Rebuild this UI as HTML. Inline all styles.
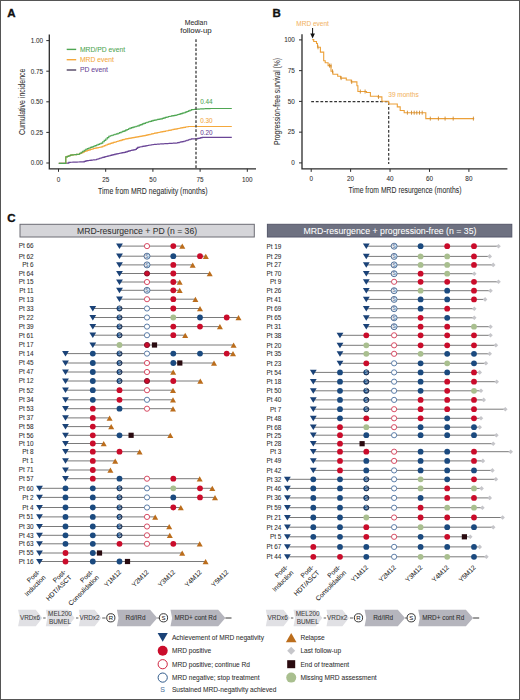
<!DOCTYPE html>
<html><head><meta charset="utf-8"><title>Figure</title>
<style>
html,body{margin:0;padding:0;background:#fff;}
body{width:520px;height:700px;overflow:hidden;}
svg{display:block;font-family:"Liberation Sans", sans-serif;}
text{stroke-width:0.06px;}
</style></head><body>
<svg width="520" height="700" viewBox="0 0 520 700">
<rect x="0" y="0" width="520" height="700" fill="#fff"/>
<text x="7.20" y="17.20" font-size="11.5" text-anchor="start" fill="#111" stroke="#111" font-weight="bold" style="stroke-width:0.35px">A</text>
<text x="272.50" y="17.20" font-size="11.5" text-anchor="start" fill="#111" stroke="#111" font-weight="bold" style="stroke-width:0.35px">B</text>
<text x="7.20" y="221.60" font-size="11.5" text-anchor="start" fill="#111" stroke="#111" font-weight="bold" style="stroke-width:0.35px">C</text>
<path d="M49.3 34.4 V168.8 H256" fill="none" stroke="#2b2b2b" stroke-width="1.3"/>
<line x1="46.3" y1="163.00" x2="49.3" y2="163.00" stroke="#2b2b2b" stroke-width="1"/>
<text x="43.20" y="165.30" font-size="6.4" text-anchor="end" fill="#2e2e2e" stroke="#2e2e2e" >0.00</text>
<line x1="46.3" y1="132.40" x2="49.3" y2="132.40" stroke="#2b2b2b" stroke-width="1"/>
<text x="43.20" y="134.70" font-size="6.4" text-anchor="end" fill="#2e2e2e" stroke="#2e2e2e" >0.25</text>
<line x1="46.3" y1="101.80" x2="49.3" y2="101.80" stroke="#2b2b2b" stroke-width="1"/>
<text x="43.20" y="104.10" font-size="6.4" text-anchor="end" fill="#2e2e2e" stroke="#2e2e2e" >0.50</text>
<line x1="46.3" y1="71.20" x2="49.3" y2="71.20" stroke="#2b2b2b" stroke-width="1"/>
<text x="43.20" y="73.50" font-size="6.4" text-anchor="end" fill="#2e2e2e" stroke="#2e2e2e" >0.75</text>
<line x1="46.3" y1="40.60" x2="49.3" y2="40.60" stroke="#2b2b2b" stroke-width="1"/>
<text x="43.20" y="42.90" font-size="6.4" text-anchor="end" fill="#2e2e2e" stroke="#2e2e2e" >1.00</text>
<line x1="58.50" y1="168.8" x2="58.50" y2="171.8" stroke="#2b2b2b" stroke-width="1"/>
<text x="58.50" y="181.50" font-size="6.4" text-anchor="middle" fill="#2e2e2e" stroke="#2e2e2e" >0</text>
<line x1="105.70" y1="168.8" x2="105.70" y2="171.8" stroke="#2b2b2b" stroke-width="1"/>
<text x="105.70" y="181.50" font-size="6.4" text-anchor="middle" fill="#2e2e2e" stroke="#2e2e2e" >25</text>
<line x1="152.90" y1="168.8" x2="152.90" y2="171.8" stroke="#2b2b2b" stroke-width="1"/>
<text x="152.90" y="181.50" font-size="6.4" text-anchor="middle" fill="#2e2e2e" stroke="#2e2e2e" >50</text>
<line x1="200.10" y1="168.8" x2="200.10" y2="171.8" stroke="#2b2b2b" stroke-width="1"/>
<text x="200.10" y="181.50" font-size="6.4" text-anchor="middle" fill="#2e2e2e" stroke="#2e2e2e" >75</text>
<line x1="247.30" y1="168.8" x2="247.30" y2="171.8" stroke="#2b2b2b" stroke-width="1"/>
<text x="247.30" y="181.50" font-size="6.4" text-anchor="middle" fill="#2e2e2e" stroke="#2e2e2e" >100</text>
<text x="152.80" y="194.20" font-size="8.3" text-anchor="middle" fill="#2e2e2e" stroke="#2e2e2e" textLength="109.5" lengthAdjust="spacingAndGlyphs">Time from MRD negativity (months)</text>
<text x="0" y="0" font-size="8.4" text-anchor="middle" fill="#2e2e2e" stroke="#2e2e2e" textLength="66.4" lengthAdjust="spacingAndGlyphs" transform="translate(25.3,101.8) rotate(-90)">Cumulative incidence</text>
<path d="M58.80 163.40 H60.13 V163.36 H61.46 V163.31 H62.79 V163.27 H64.11 V163.23 H65.44 V163.19 H66.77 V163.14 H68.10 V163.10 H68.80 V162.30 H70.19 V162.25 H71.58 V162.20 H72.97 V162.15 H74.36 V162.10 H75.75 V162.05 H77.14 V162.00 H78.53 V161.95 H79.92 V161.90 H81.31 V161.85 H82.70 V161.80 H84.25 V161.30 H85.80 V160.80 H87.11 V160.64 H88.43 V160.49 H89.74 V160.33 H91.06 V160.17 H92.37 V160.01 H93.69 V159.86 H95.00 V159.70 H96.55 V159.20 H98.10 V158.70 H99.65 V158.20 H101.20 V157.70 H102.72 V157.30 H104.24 V156.90 H105.76 V156.50 H107.28 V156.10 H108.80 V155.70 H110.34 V155.32 H111.88 V154.94 H113.42 V154.56 H114.96 V154.18 H116.50 V153.80 H118.04 V153.50 H119.58 V153.20 H121.12 V152.90 H122.66 V152.60 H124.20 V152.30 H125.73 V151.80 H127.27 V151.30 H128.80 V150.80 H130.35 V150.48 H131.90 V150.15 H133.45 V149.82 H135.00 V149.50 H136.35 V148.40 H137.70 V147.30 H139.24 V147.00 H140.78 V146.70 H142.32 V146.40 H143.86 V146.10 H145.40 V145.80 H146.94 V145.54 H148.48 V145.28 H150.02 V145.02 H151.56 V144.76 H153.10 V144.50 H154.64 V144.38 H156.18 V144.26 H157.72 V144.14 H159.26 V144.02 H160.80 V143.90 H162.20 V143.82 H163.60 V143.74 H165.00 V143.65 H166.40 V143.57 H167.80 V143.49 H169.20 V143.41 H170.60 V143.33 H172.00 V143.25 H173.40 V143.16 H174.80 V143.08 H176.20 V143.00 H177.72 V142.64 H179.24 V142.28 H180.76 V141.92 H182.28 V141.56 H183.80 V141.20 H185.34 V140.72 H186.88 V140.24 H188.42 V139.76 H189.96 V139.28 H191.50 V138.80 H193.07 V138.80 H194.63 V138.80 H196.20 V138.80 H197.72 V138.43 H199.25 V138.05 H200.78 V137.68 H202.30 V137.30 H203.64 V137.30 H204.98 V137.30 H206.32 V137.30 H207.66 V137.30 H209.00 V137.30 H210.35 V137.30 H211.69 V137.30 H213.03 V137.30 H214.37 V137.30 H215.71 V137.30 H217.05 V137.30 H218.39 V137.30 H219.73 V137.30 H221.07 V137.30 H222.41 V137.30 H223.75 V137.30 H225.10 V137.30 H226.44 V137.30 H227.78 V137.30 H229.12 V137.30 H230.46 V137.30 H231.80 V137.30" fill="none" stroke="#6a4596" stroke-width="1.15"/>
<path d="M58.80 163.40 H60.37 V163.40 H61.93 V163.40 H63.50 V163.40 H65.80 V156.90 H67.33 V156.30 H68.87 V155.70 H70.40 V155.10 H71.94 V154.92 H73.48 V154.74 H75.02 V154.56 H76.56 V154.38 H78.10 V154.20 H79.64 V153.52 H81.18 V152.84 H82.72 V152.16 H84.26 V151.48 H85.80 V150.80 H87.34 V150.34 H88.88 V149.88 H90.42 V149.42 H91.96 V148.96 H93.50 V148.50 H95.04 V148.18 H96.58 V147.86 H98.12 V147.54 H99.66 V147.22 H101.20 V146.90 H102.72 V146.28 H104.24 V145.66 H105.76 V145.04 H107.28 V144.42 H108.80 V143.80 H110.34 V143.34 H111.88 V142.88 H113.42 V142.42 H114.96 V141.96 H116.50 V141.50 H118.04 V141.04 H119.58 V140.58 H121.12 V140.12 H122.66 V139.66 H124.20 V139.20 H125.65 V138.92 H127.10 V138.65 H128.55 V138.38 H130.00 V138.10 H131.40 V137.85 H132.80 V137.59 H134.20 V137.34 H135.60 V137.08 H137.00 V136.83 H138.40 V136.57 H139.80 V136.32 H141.20 V136.06 H142.60 V135.81 H144.00 V135.55 H145.40 V135.30 H146.94 V134.94 H148.48 V134.58 H150.02 V134.22 H151.56 V133.86 H153.10 V133.50 H154.64 V133.18 H156.18 V132.86 H157.72 V132.54 H159.26 V132.22 H160.80 V131.90 H162.34 V131.60 H163.88 V131.30 H165.42 V131.00 H166.96 V130.70 H168.50 V130.40 H170.04 V130.08 H171.58 V129.76 H173.12 V129.44 H174.66 V129.12 H176.20 V128.80 H177.72 V128.50 H179.24 V128.20 H180.76 V127.90 H182.28 V127.60 H183.80 V127.30 H185.37 V127.03 H186.93 V126.77 H188.50 V126.50 H189.81 V126.50 H191.12 V126.50 H192.44 V126.50 H193.75 V126.50 H195.06 V126.50 H196.37 V126.50 H197.68 V126.50 H199.00 V126.50 H200.31 V126.50 H201.62 V126.50 H202.93 V126.50 H204.25 V126.50 H205.56 V126.50 H206.87 V126.50 H208.18 V126.50 H209.49 V126.50 H210.81 V126.50 H212.12 V126.50 H213.43 V126.50 H214.74 V126.50 H216.05 V126.50 H217.37 V126.50 H218.68 V126.50 H219.99 V126.50 H221.30 V126.50 H222.62 V126.50 H223.93 V126.50 H225.24 V126.50 H226.55 V126.50 H227.86 V126.50 H229.18 V126.50 H230.49 V126.50 H231.80 V126.50" fill="none" stroke="#f4a83c" stroke-width="1.15"/>
<path d="M58.80 163.40 H60.37 V163.40 H61.93 V163.40 H63.50 V163.40 H65.80 V156.90 H67.33 V156.30 H68.87 V155.70 H70.40 V155.10 H71.94 V154.92 H73.48 V154.74 H75.02 V154.56 H76.56 V154.38 H78.10 V154.20 H79.64 V153.20 H81.18 V152.20 H82.72 V151.20 H84.26 V150.20 H85.80 V149.20 H87.34 V148.60 H88.88 V148.00 H90.42 V147.40 H91.96 V146.80 H93.50 V146.20 H95.04 V145.58 H96.58 V144.96 H98.12 V144.34 H99.66 V143.72 H101.20 V143.10 H102.72 V141.72 H104.24 V140.34 H105.76 V138.96 H107.28 V137.58 H108.80 V136.20 H110.34 V135.72 H111.88 V135.24 H113.42 V134.76 H114.96 V134.28 H116.50 V133.80 H118.04 V133.20 H119.58 V132.60 H121.12 V132.00 H122.66 V131.40 H124.20 V130.80 H125.65 V130.12 H127.10 V129.45 H128.55 V128.78 H130.00 V128.10 H131.54 V127.64 H133.08 V127.18 H134.62 V126.72 H136.16 V126.26 H137.70 V125.80 H139.24 V125.18 H140.78 V124.56 H142.32 V123.94 H143.86 V123.32 H145.40 V122.70 H146.94 V122.24 H148.48 V121.78 H150.02 V121.32 H151.56 V120.86 H153.10 V120.40 H154.64 V120.08 H156.18 V119.76 H157.72 V119.44 H159.26 V119.12 H160.80 V118.80 H162.34 V118.34 H163.88 V117.88 H165.42 V117.42 H166.96 V116.96 H168.50 V116.50 H170.04 V116.20 H171.58 V115.90 H173.12 V115.60 H174.66 V115.30 H176.20 V115.00 H177.72 V114.54 H179.24 V114.08 H180.76 V113.62 H182.28 V113.16 H183.80 V112.70 H185.34 V112.08 H186.88 V111.46 H188.42 V110.84 H189.96 V110.22 H191.50 V109.60 H193.07 V109.47 H194.63 V109.33 H196.20 V109.20 H197.72 V109.10 H199.25 V109.00 H200.78 V108.90 H202.30 V108.80 H203.84 V108.74 H205.38 V108.68 H206.92 V108.62 H208.46 V108.56 H210.00 V108.50 H211.36 V108.50 H212.72 V108.50 H214.09 V108.50 H215.45 V108.50 H216.81 V108.50 H218.18 V108.50 H219.54 V108.50 H220.90 V108.50 H222.26 V108.50 H223.62 V108.50 H224.99 V108.50 H226.35 V108.50 H227.71 V108.50 H229.08 V108.50 H230.44 V108.50 H231.80 V108.50" fill="none" stroke="#4fa653" stroke-width="1.15"/>
<line x1="196.0" y1="39.2" x2="196.0" y2="168.8" stroke="#333" stroke-width="1.25" stroke-dasharray="2.8,1.7"/>
<text x="196.00" y="25.30" font-size="6.9" text-anchor="middle" fill="#2e2e2e" stroke="#2e2e2e" >Median</text>
<text x="196.00" y="33.00" font-size="7.2" text-anchor="middle" fill="#2e2e2e" stroke="#2e2e2e" textLength="31.5" lengthAdjust="spacingAndGlyphs">follow-up</text>
<text x="200.20" y="104.30" font-size="6.4" text-anchor="start" fill="#4fa653" stroke="#4fa653" >0.44</text>
<text x="200.20" y="122.80" font-size="6.4" text-anchor="start" fill="#f4a83c" stroke="#f4a83c" >0.30</text>
<text x="200.20" y="134.50" font-size="6.4" text-anchor="start" fill="#6a4596" stroke="#6a4596" >0.20</text>
<line x1="66.7" y1="49.40" x2="76.2" y2="49.40" stroke="#4fa653" stroke-width="1.4"/>
<text x="80.00" y="51.70" font-size="6.75" text-anchor="start" fill="#4fa653" stroke="#4fa653" >MRD/PD event</text>
<line x1="66.7" y1="59.70" x2="76.2" y2="59.70" stroke="#f4a83c" stroke-width="1.4"/>
<text x="80.00" y="62.00" font-size="6.75" text-anchor="start" fill="#f4a83c" stroke="#f4a83c" >MRD event</text>
<line x1="66.7" y1="70.00" x2="76.2" y2="70.00" stroke="#514462" stroke-width="1.4"/>
<text x="80.00" y="72.30" font-size="6.75" text-anchor="start" fill="#6a4596" stroke="#6a4596" >PD event</text>
<path d="M302.0 34.2 V168.9 H507.4" fill="none" stroke="#2b2b2b" stroke-width="1.3"/>
<line x1="299.0" y1="162.90" x2="302.0" y2="162.90" stroke="#2b2b2b" stroke-width="1"/>
<text x="294.80" y="165.20" font-size="6.4" text-anchor="end" fill="#2e2e2e" stroke="#2e2e2e" >0</text>
<line x1="299.0" y1="132.15" x2="302.0" y2="132.15" stroke="#2b2b2b" stroke-width="1"/>
<text x="294.80" y="134.45" font-size="6.4" text-anchor="end" fill="#2e2e2e" stroke="#2e2e2e" >25</text>
<line x1="299.0" y1="101.40" x2="302.0" y2="101.40" stroke="#2b2b2b" stroke-width="1"/>
<text x="294.80" y="103.70" font-size="6.4" text-anchor="end" fill="#2e2e2e" stroke="#2e2e2e" >50</text>
<line x1="299.0" y1="70.65" x2="302.0" y2="70.65" stroke="#2b2b2b" stroke-width="1"/>
<text x="294.80" y="72.95" font-size="6.4" text-anchor="end" fill="#2e2e2e" stroke="#2e2e2e" >75</text>
<line x1="299.0" y1="39.90" x2="302.0" y2="39.90" stroke="#2b2b2b" stroke-width="1"/>
<text x="294.80" y="42.20" font-size="6.4" text-anchor="end" fill="#2e2e2e" stroke="#2e2e2e" >100</text>
<line x1="311.20" y1="168.9" x2="311.20" y2="171.9" stroke="#2b2b2b" stroke-width="1"/>
<text x="311.20" y="181.30" font-size="6.4" text-anchor="middle" fill="#2e2e2e" stroke="#2e2e2e" >0</text>
<line x1="350.62" y1="168.9" x2="350.62" y2="171.9" stroke="#2b2b2b" stroke-width="1"/>
<text x="350.62" y="181.30" font-size="6.4" text-anchor="middle" fill="#2e2e2e" stroke="#2e2e2e" >20</text>
<line x1="390.05" y1="168.9" x2="390.05" y2="171.9" stroke="#2b2b2b" stroke-width="1"/>
<text x="390.05" y="181.30" font-size="6.4" text-anchor="middle" fill="#2e2e2e" stroke="#2e2e2e" >40</text>
<line x1="429.48" y1="168.9" x2="429.48" y2="171.9" stroke="#2b2b2b" stroke-width="1"/>
<text x="429.48" y="181.30" font-size="6.4" text-anchor="middle" fill="#2e2e2e" stroke="#2e2e2e" >60</text>
<line x1="468.90" y1="168.9" x2="468.90" y2="171.9" stroke="#2b2b2b" stroke-width="1"/>
<text x="468.90" y="181.30" font-size="6.4" text-anchor="middle" fill="#2e2e2e" stroke="#2e2e2e" >80</text>
<text x="405.00" y="193.10" font-size="8.3" text-anchor="middle" fill="#2e2e2e" stroke="#2e2e2e" textLength="113" lengthAdjust="spacingAndGlyphs">Time from MRD resurgence (months)</text>
<text x="0" y="0" font-size="8.2" text-anchor="middle" fill="#2e2e2e" stroke="#2e2e2e" textLength="87" lengthAdjust="spacingAndGlyphs" transform="translate(280.0,101.5) rotate(-90)">Progression-free survival (%)</text>
<path d="M311.2 101.6 H388.7 V164" fill="none" stroke="#333" stroke-width="1.2" stroke-dasharray="2.8,1.8"/>
<path d="M312.3 39.6 H313.7 V41.5 H316.5 V43.5 H317.5 V47.3 H320.4 V52.1 H323.7 V52.7 H323.7 V60.8 H325.2 V62.7 H328.1 V65.6 H331 V71.3 H332.9 V74.2 H337.7 V76.2 H340.6 V78.1 H346.3 V80 H351.2 V81.9 H356.9 V85.8 H357.9 V91.5 H366.5 V92.5 H370.4 V96.3 H378 V96.9 H381.9 V101.2 H388.7 V102.1 H388.7 V104 H394.4 V104 H397.3 V106.9 H400.2 V110.5 H404.2 V112.7 H424.4 V112.7 H425.8 V118.6 H474.2 V118.6" fill="none" stroke="#eca038" stroke-width="1.1"/>
<line x1="318.0" y1="45.3" x2="318.0" y2="49.3" stroke="#cf8a30" stroke-width="0.9"/>
<line x1="329.5" y1="63.599999999999994" x2="329.5" y2="67.6" stroke="#cf8a30" stroke-width="0.9"/>
<line x1="331.0" y1="63.599999999999994" x2="331.0" y2="67.6" stroke="#cf8a30" stroke-width="0.9"/>
<line x1="332.5" y1="69.3" x2="332.5" y2="73.3" stroke="#cf8a30" stroke-width="0.9"/>
<line x1="341.1" y1="76.1" x2="341.1" y2="80.1" stroke="#cf8a30" stroke-width="0.9"/>
<line x1="351.7" y1="79.9" x2="351.7" y2="83.9" stroke="#cf8a30" stroke-width="0.9"/>
<line x1="360.3" y1="89.5" x2="360.3" y2="93.5" stroke="#cf8a30" stroke-width="0.9"/>
<line x1="365.1" y1="89.5" x2="365.1" y2="93.5" stroke="#cf8a30" stroke-width="0.9"/>
<line x1="378.5" y1="94.9" x2="378.5" y2="98.9" stroke="#cf8a30" stroke-width="0.9"/>
<line x1="407.4" y1="110.7" x2="407.4" y2="114.7" stroke="#cf8a30" stroke-width="0.9"/>
<line x1="411.5" y1="110.7" x2="411.5" y2="114.7" stroke="#cf8a30" stroke-width="0.9"/>
<line x1="414.2" y1="110.7" x2="414.2" y2="114.7" stroke="#cf8a30" stroke-width="0.9"/>
<line x1="416.8" y1="110.7" x2="416.8" y2="114.7" stroke="#cf8a30" stroke-width="0.9"/>
<line x1="419.5" y1="110.7" x2="419.5" y2="114.7" stroke="#cf8a30" stroke-width="0.9"/>
<line x1="422.2" y1="110.7" x2="422.2" y2="114.7" stroke="#cf8a30" stroke-width="0.9"/>
<line x1="430.3" y1="116.6" x2="430.3" y2="120.6" stroke="#cf8a30" stroke-width="0.9"/>
<line x1="438.4" y1="116.6" x2="438.4" y2="120.6" stroke="#cf8a30" stroke-width="0.9"/>
<line x1="445.1" y1="116.6" x2="445.1" y2="120.6" stroke="#cf8a30" stroke-width="0.9"/>
<line x1="453.2" y1="116.6" x2="453.2" y2="120.6" stroke="#cf8a30" stroke-width="0.9"/>
<line x1="473.4" y1="116.6" x2="473.4" y2="120.6" stroke="#cf8a30" stroke-width="0.9"/>
<text x="312.60" y="26.10" font-size="6.5" text-anchor="middle" fill="#f3b466" stroke="#f3b466" >MRD event</text>
<line x1="312.6" y1="28" x2="312.6" y2="34" stroke="#111" stroke-width="1"/>
<path d="M310.3 33.4 L312.6 38.6 L314.9 33.4Z" fill="#111"/>
<text x="388.30" y="97.00" font-size="6.5" text-anchor="start" fill="#f3b466" stroke="#f3b466" >39 months</text>
<rect x="20" y="224.3" width="234.3" height="12.7" fill="#d5d5d9" stroke="#6c6c74" stroke-width="1"/>
<text x="137.10" y="233.80" font-size="8.9" text-anchor="middle" fill="#333" stroke="#333" textLength="120" lengthAdjust="spacingAndGlyphs">MRD-resurgence + PD (n = 36)</text>
<rect x="267.4" y="224.3" width="244.4" height="12.7" fill="#6e7181" stroke="#55576a" stroke-width="1"/>
<text x="390.00" y="233.80" font-size="8.9" text-anchor="middle" fill="#ffffff" stroke="#ffffff" textLength="173" lengthAdjust="spacingAndGlyphs">MRD-resurgence + progression-free (n = 35)</text>
<text x="33.60" y="248.45" font-size="6.912000000000001" text-anchor="end" fill="#2e2e2e" stroke="#2e2e2e" textLength="14.94" lengthAdjust="spacingAndGlyphs">Pt 66</text>
<line x1="119.50" y1="246.10" x2="182.30" y2="246.10" stroke="#7a7a7a" stroke-width="1.0"/>
<path d="M116.10 243.50 H122.90 L119.50 249.00Z" fill="#1a4277"/>
<circle cx="147.0" cy="246.10" r="2.6" fill="#fff" stroke="#d43a55" stroke-width="0.9"/>
<circle cx="173.3" cy="246.10" r="2.9" fill="#ca0c2b"/>
<path d="M179.30 248.85 H185.30 L182.30 243.60Z" fill="#bb6d1c"/>
<text x="33.60" y="258.55" font-size="6.912000000000001" text-anchor="end" fill="#2e2e2e" stroke="#2e2e2e" textLength="14.94" lengthAdjust="spacingAndGlyphs">Pt 62</text>
<line x1="119.50" y1="256.20" x2="205.80" y2="256.20" stroke="#7a7a7a" stroke-width="1.0"/>
<path d="M116.10 253.60 H122.90 L119.50 259.10Z" fill="#1a4277"/>
<circle cx="147.0" cy="256.20" r="3.0" fill="#e2eaf3" stroke="#4f6f97" stroke-width="0.95"/>
<text x="147.0" y="257.95" font-size="4.9" text-anchor="middle" fill="#4f6f97">S</text>
<circle cx="173.3" cy="256.20" r="2.9" fill="#1b4a7f"/>
<circle cx="200.0" cy="256.20" r="2.9" fill="#ca0c2b"/>
<path d="M202.80 258.95 H208.80 L205.80 253.70Z" fill="#bb6d1c"/>
<text x="33.60" y="267.25" font-size="6.912000000000001" text-anchor="end" fill="#2e2e2e" stroke="#2e2e2e" textLength="11.38" lengthAdjust="spacingAndGlyphs">Pt 6</text>
<line x1="119.50" y1="264.90" x2="192.70" y2="264.90" stroke="#7a7a7a" stroke-width="1.0"/>
<path d="M116.10 262.30 H122.90 L119.50 267.80Z" fill="#1a4277"/>
<circle cx="147.0" cy="264.90" r="3.0" fill="#e2eaf3" stroke="#4f6f97" stroke-width="0.95"/>
<text x="147.0" y="266.65" font-size="4.9" text-anchor="middle" fill="#4f6f97">S</text>
<circle cx="173.3" cy="264.90" r="2.9" fill="#ca0c2b"/>
<path d="M189.70 267.65 H195.70 L192.70 262.40Z" fill="#bb6d1c"/>
<text x="33.60" y="275.85" font-size="6.912000000000001" text-anchor="end" fill="#2e2e2e" stroke="#2e2e2e" textLength="14.94" lengthAdjust="spacingAndGlyphs">Pt 64</text>
<line x1="119.50" y1="273.50" x2="209.70" y2="273.50" stroke="#7a7a7a" stroke-width="1.0"/>
<path d="M116.10 270.90 H122.90 L119.50 276.40Z" fill="#1a4277"/>
<circle cx="147.0" cy="273.50" r="2.6" fill="#ca0c2b" stroke="#7e0b26" stroke-width="0.9"/>
<circle cx="173.3" cy="273.50" r="2.9" fill="#ca0c2b"/>
<path d="M206.70 276.25 H212.70 L209.70 271.00Z" fill="#bb6d1c"/>
<text x="33.60" y="284.35" font-size="6.912000000000001" text-anchor="end" fill="#2e2e2e" stroke="#2e2e2e" textLength="14.94" lengthAdjust="spacingAndGlyphs">Pt 15</text>
<line x1="119.50" y1="282.00" x2="179.70" y2="282.00" stroke="#7a7a7a" stroke-width="1.0"/>
<path d="M116.10 279.40 H122.90 L119.50 284.90Z" fill="#1a4277"/>
<circle cx="147.0" cy="282.00" r="2.6" fill="#fff" stroke="#d43a55" stroke-width="0.9"/>
<circle cx="173.3" cy="282.00" r="2.9" fill="#ca0c2b"/>
<path d="M176.70 284.75 H182.70 L179.70 279.50Z" fill="#bb6d1c"/>
<text x="33.60" y="292.65" font-size="6.912000000000001" text-anchor="end" fill="#2e2e2e" stroke="#2e2e2e" textLength="14.47" lengthAdjust="spacingAndGlyphs">Pt 11</text>
<line x1="119.50" y1="290.30" x2="179.70" y2="290.30" stroke="#7a7a7a" stroke-width="1.0"/>
<path d="M116.10 287.70 H122.90 L119.50 293.20Z" fill="#1a4277"/>
<circle cx="147.0" cy="290.30" r="3.0" fill="#e2eaf3" stroke="#4f6f97" stroke-width="0.95"/>
<text x="147.0" y="292.05" font-size="4.9" text-anchor="middle" fill="#4f6f97">S</text>
<circle cx="173.3" cy="290.30" r="2.9" fill="#ca0c2b"/>
<path d="M176.70 293.05 H182.70 L179.70 287.80Z" fill="#bb6d1c"/>
<text x="33.60" y="301.55" font-size="6.912000000000001" text-anchor="end" fill="#2e2e2e" stroke="#2e2e2e" textLength="14.94" lengthAdjust="spacingAndGlyphs">Pt 13</text>
<line x1="119.50" y1="299.20" x2="195.40" y2="299.20" stroke="#7a7a7a" stroke-width="1.0"/>
<path d="M116.10 296.60 H122.90 L119.50 302.10Z" fill="#1a4277"/>
<circle cx="147.0" cy="299.20" r="2.6" fill="#fff" stroke="#d43a55" stroke-width="0.9"/>
<circle cx="173.3" cy="299.20" r="2.9" fill="#ca0c2b"/>
<path d="M192.40 301.95 H198.40 L195.40 296.70Z" fill="#bb6d1c"/>
<text x="33.60" y="310.85" font-size="6.912000000000001" text-anchor="end" fill="#2e2e2e" stroke="#2e2e2e" textLength="14.94" lengthAdjust="spacingAndGlyphs">Pt 33</text>
<line x1="92.80" y1="308.50" x2="200.00" y2="308.50" stroke="#7a7a7a" stroke-width="1.0"/>
<path d="M89.40 305.90 H96.20 L92.80 311.40Z" fill="#1a4277"/>
<circle cx="119.5" cy="308.50" r="2.55" fill="#2b5283" stroke="#132b4c" stroke-width="0.9"/>
<text x="119.5" y="310.10" font-size="4.5" text-anchor="middle" fill="#b5c8de">S</text>
<circle cx="147.0" cy="308.50" r="2.6" fill="#fff" stroke="#4d72a0" stroke-width="0.9"/>
<circle cx="173.3" cy="308.50" r="2.9" fill="#ca0c2b"/>
<path d="M197.00 311.25 H203.00 L200.00 306.00Z" fill="#bb6d1c"/>
<text x="33.60" y="319.85" font-size="6.912000000000001" text-anchor="end" fill="#2e2e2e" stroke="#2e2e2e" textLength="14.94" lengthAdjust="spacingAndGlyphs">Pt 22</text>
<line x1="92.80" y1="317.50" x2="238.50" y2="317.50" stroke="#7a7a7a" stroke-width="1.0"/>
<path d="M89.40 314.90 H96.20 L92.80 320.40Z" fill="#1a4277"/>
<circle cx="119.5" cy="317.50" r="2.55" fill="#2b5283" stroke="#132b4c" stroke-width="0.9"/>
<text x="119.5" y="319.10" font-size="4.5" text-anchor="middle" fill="#b5c8de">S</text>
<circle cx="147.0" cy="317.50" r="2.6" fill="#fff" stroke="#4d72a0" stroke-width="0.9"/>
<circle cx="173.3" cy="317.50" r="2.9" fill="#a9bf8f"/>
<circle cx="200.0" cy="317.50" r="2.9" fill="#1b4a7f"/>
<circle cx="226.7" cy="317.50" r="2.9" fill="#ca0c2b"/>
<path d="M235.50 320.25 H241.50 L238.50 315.00Z" fill="#bb6d1c"/>
<text x="33.60" y="328.95" font-size="6.912000000000001" text-anchor="end" fill="#2e2e2e" stroke="#2e2e2e" textLength="14.94" lengthAdjust="spacingAndGlyphs">Pt 39</text>
<line x1="92.80" y1="326.60" x2="219.90" y2="326.60" stroke="#7a7a7a" stroke-width="1.0"/>
<path d="M89.40 324.00 H96.20 L92.80 329.50Z" fill="#1a4277"/>
<circle cx="119.5" cy="326.60" r="2.55" fill="#2b5283" stroke="#132b4c" stroke-width="0.9"/>
<text x="119.5" y="328.20" font-size="4.5" text-anchor="middle" fill="#b5c8de">S</text>
<circle cx="147.0" cy="326.60" r="2.6" fill="#fff" stroke="#4d72a0" stroke-width="0.9"/>
<circle cx="173.3" cy="326.60" r="2.9" fill="#ca0c2b"/>
<circle cx="200.0" cy="326.60" r="2.9" fill="#ca0c2b"/>
<path d="M216.90 329.35 H222.90 L219.90 324.10Z" fill="#bb6d1c"/>
<text x="33.60" y="337.55" font-size="6.912000000000001" text-anchor="end" fill="#2e2e2e" stroke="#2e2e2e" textLength="14.94" lengthAdjust="spacingAndGlyphs">Pt 61</text>
<line x1="92.80" y1="335.20" x2="185.20" y2="335.20" stroke="#7a7a7a" stroke-width="1.0"/>
<path d="M89.40 332.60 H96.20 L92.80 338.10Z" fill="#1a4277"/>
<circle cx="119.5" cy="335.20" r="2.55" fill="#2b5283" stroke="#132b4c" stroke-width="0.9"/>
<text x="119.5" y="336.80" font-size="4.5" text-anchor="middle" fill="#b5c8de">S</text>
<circle cx="147.0" cy="335.20" r="2.6" fill="#fff" stroke="#4d72a0" stroke-width="0.9"/>
<circle cx="173.3" cy="335.20" r="2.9" fill="#ca0c2b"/>
<path d="M182.20 337.95 H188.20 L185.20 332.70Z" fill="#bb6d1c"/>
<text x="33.60" y="347.35" font-size="6.912000000000001" text-anchor="end" fill="#2e2e2e" stroke="#2e2e2e" textLength="14.94" lengthAdjust="spacingAndGlyphs">Pt 17</text>
<line x1="92.80" y1="345.00" x2="233.60" y2="345.00" stroke="#7a7a7a" stroke-width="1.0"/>
<path d="M89.40 342.40 H96.20 L92.80 347.90Z" fill="#1a4277"/>
<circle cx="119.5" cy="345.00" r="2.9" fill="#a9bf8f"/>
<circle cx="147.0" cy="345.00" r="2.6" fill="#ca0c2b" stroke="#7e0b26" stroke-width="0.9"/>
<rect x="151.90" y="342.40" width="5.2" height="5.2" fill="#2a0b10"/>
<path d="M230.60 347.75 H236.60 L233.60 342.50Z" fill="#bb6d1c"/>
<text x="33.60" y="355.95" font-size="6.912000000000001" text-anchor="end" fill="#2e2e2e" stroke="#2e2e2e" textLength="14.94" lengthAdjust="spacingAndGlyphs">Pt 14</text>
<line x1="65.50" y1="353.60" x2="233.00" y2="353.60" stroke="#7a7a7a" stroke-width="1.0"/>
<path d="M62.10 351.00 H68.90 L65.50 356.50Z" fill="#1a4277"/>
<circle cx="92.8" cy="353.60" r="2.9" fill="#1b4a7f"/>
<circle cx="119.5" cy="353.60" r="2.55" fill="#2b5283" stroke="#132b4c" stroke-width="0.9"/>
<text x="119.5" y="355.20" font-size="4.5" text-anchor="middle" fill="#b5c8de">S</text>
<circle cx="147.0" cy="353.60" r="2.6" fill="#fff" stroke="#4d72a0" stroke-width="0.9"/>
<circle cx="173.3" cy="353.60" r="2.9" fill="#1b4a7f"/>
<circle cx="200.0" cy="353.60" r="2.9" fill="#1b4a7f"/>
<circle cx="226.7" cy="353.60" r="2.9" fill="#ca0c2b"/>
<path d="M230.00 356.35 H236.00 L233.00 351.10Z" fill="#bb6d1c"/>
<text x="33.60" y="365.35" font-size="6.912000000000001" text-anchor="end" fill="#2e2e2e" stroke="#2e2e2e" textLength="14.94" lengthAdjust="spacingAndGlyphs">Pt 45</text>
<line x1="65.50" y1="363.00" x2="214.00" y2="363.00" stroke="#7a7a7a" stroke-width="1.0"/>
<path d="M62.10 360.40 H68.90 L65.50 365.90Z" fill="#1a4277"/>
<circle cx="92.8" cy="363.00" r="2.9" fill="#1b4a7f"/>
<circle cx="119.5" cy="363.00" r="2.55" fill="#2b5283" stroke="#132b4c" stroke-width="0.9"/>
<text x="119.5" y="364.60" font-size="4.5" text-anchor="middle" fill="#b5c8de">S</text>
<circle cx="147.0" cy="363.00" r="2.6" fill="#fff" stroke="#d43a55" stroke-width="0.9"/>
<circle cx="173.3" cy="363.00" r="2.9" fill="#1b4a7f"/>
<rect x="177.20" y="360.40" width="5.2" height="5.2" fill="#2a0b10"/>
<path d="M211.00 365.75 H217.00 L214.00 360.50Z" fill="#bb6d1c"/>
<text x="33.60" y="374.35" font-size="6.912000000000001" text-anchor="end" fill="#2e2e2e" stroke="#2e2e2e" textLength="14.94" lengthAdjust="spacingAndGlyphs">Pt 47</text>
<line x1="65.50" y1="372.00" x2="173.20" y2="372.00" stroke="#7a7a7a" stroke-width="1.0"/>
<path d="M62.10 369.40 H68.90 L65.50 374.90Z" fill="#1a4277"/>
<circle cx="92.8" cy="372.00" r="2.9" fill="#1b4a7f"/>
<circle cx="119.5" cy="372.00" r="2.55" fill="#2b5283" stroke="#132b4c" stroke-width="0.9"/>
<text x="119.5" y="373.60" font-size="4.5" text-anchor="middle" fill="#b5c8de">S</text>
<circle cx="147.0" cy="372.00" r="2.6" fill="#fff" stroke="#d43a55" stroke-width="0.9"/>
<path d="M170.20 374.75 H176.20 L173.20 369.50Z" fill="#bb6d1c"/>
<text x="33.60" y="383.35" font-size="6.912000000000001" text-anchor="end" fill="#2e2e2e" stroke="#2e2e2e" textLength="14.94" lengthAdjust="spacingAndGlyphs">Pt 12</text>
<line x1="65.50" y1="381.00" x2="200.30" y2="381.00" stroke="#7a7a7a" stroke-width="1.0"/>
<path d="M62.10 378.40 H68.90 L65.50 383.90Z" fill="#1a4277"/>
<circle cx="92.8" cy="381.00" r="2.9" fill="#1b4a7f"/>
<circle cx="119.5" cy="381.00" r="2.55" fill="#2b5283" stroke="#132b4c" stroke-width="0.9"/>
<text x="119.5" y="382.60" font-size="4.5" text-anchor="middle" fill="#b5c8de">S</text>
<circle cx="147.0" cy="381.00" r="2.6" fill="#ca0c2b" stroke="#7e0b26" stroke-width="0.9"/>
<circle cx="173.3" cy="381.00" r="2.9" fill="#ca0c2b"/>
<path d="M197.30 383.75 H203.30 L200.30 378.50Z" fill="#bb6d1c"/>
<text x="33.60" y="392.55" font-size="6.912000000000001" text-anchor="end" fill="#2e2e2e" stroke="#2e2e2e" textLength="14.94" lengthAdjust="spacingAndGlyphs">Pt 52</text>
<line x1="65.50" y1="390.20" x2="173.00" y2="390.20" stroke="#7a7a7a" stroke-width="1.0"/>
<path d="M62.10 387.60 H68.90 L65.50 393.10Z" fill="#1a4277"/>
<circle cx="92.8" cy="390.20" r="2.9" fill="#1b4a7f"/>
<circle cx="119.5" cy="390.20" r="2.9" fill="#ca0c2b"/>
<circle cx="147.0" cy="390.20" r="2.6" fill="#fff" stroke="#d43a55" stroke-width="0.9"/>
<path d="M170.00 392.95 H176.00 L173.00 387.70Z" fill="#bb6d1c"/>
<text x="33.60" y="402.15" font-size="6.912000000000001" text-anchor="end" fill="#2e2e2e" stroke="#2e2e2e" textLength="14.94" lengthAdjust="spacingAndGlyphs">Pt 34</text>
<line x1="65.50" y1="399.80" x2="173.00" y2="399.80" stroke="#7a7a7a" stroke-width="1.0"/>
<path d="M62.10 397.20 H68.90 L65.50 402.70Z" fill="#1a4277"/>
<circle cx="92.8" cy="399.80" r="2.9" fill="#1b4a7f"/>
<circle cx="119.5" cy="399.80" r="2.9" fill="#ca0c2b"/>
<circle cx="147.0" cy="399.80" r="2.6" fill="#fff" stroke="#4d72a0" stroke-width="0.9"/>
<path d="M170.00 402.55 H176.00 L173.00 397.30Z" fill="#bb6d1c"/>
<text x="33.60" y="411.05" font-size="6.912000000000001" text-anchor="end" fill="#2e2e2e" stroke="#2e2e2e" textLength="14.94" lengthAdjust="spacingAndGlyphs">Pt 53</text>
<line x1="65.50" y1="408.70" x2="173.00" y2="408.70" stroke="#7a7a7a" stroke-width="1.0"/>
<path d="M62.10 406.10 H68.90 L65.50 411.60Z" fill="#1a4277"/>
<circle cx="92.8" cy="408.70" r="2.9" fill="#ca0c2b"/>
<circle cx="119.5" cy="408.70" r="2.9" fill="#1b4a7f"/>
<circle cx="147.0" cy="408.70" r="2.6" fill="#fff" stroke="#d43a55" stroke-width="0.9"/>
<path d="M170.00 411.45 H176.00 L173.00 406.20Z" fill="#bb6d1c"/>
<text x="33.60" y="420.25" font-size="6.912000000000001" text-anchor="end" fill="#2e2e2e" stroke="#2e2e2e" textLength="14.94" lengthAdjust="spacingAndGlyphs">Pt 37</text>
<line x1="65.50" y1="417.90" x2="109.60" y2="417.90" stroke="#7a7a7a" stroke-width="1.0"/>
<path d="M62.10 415.30 H68.90 L65.50 420.80Z" fill="#1a4277"/>
<circle cx="92.8" cy="417.90" r="2.9" fill="#ca0c2b"/>
<path d="M106.60 420.65 H112.60 L109.60 415.40Z" fill="#bb6d1c"/>
<text x="33.60" y="428.95" font-size="6.912000000000001" text-anchor="end" fill="#2e2e2e" stroke="#2e2e2e" textLength="14.94" lengthAdjust="spacingAndGlyphs">Pt 58</text>
<line x1="65.50" y1="426.60" x2="111.20" y2="426.60" stroke="#7a7a7a" stroke-width="1.0"/>
<path d="M62.10 424.00 H68.90 L65.50 429.50Z" fill="#1a4277"/>
<circle cx="92.8" cy="426.60" r="2.9" fill="#ca0c2b"/>
<path d="M108.20 429.35 H114.20 L111.20 424.10Z" fill="#bb6d1c"/>
<text x="33.60" y="437.65" font-size="6.912000000000001" text-anchor="end" fill="#2e2e2e" stroke="#2e2e2e" textLength="14.94" lengthAdjust="spacingAndGlyphs">Pt 56</text>
<line x1="65.50" y1="435.30" x2="170.30" y2="435.30" stroke="#7a7a7a" stroke-width="1.0"/>
<path d="M62.10 432.70 H68.90 L65.50 438.20Z" fill="#1a4277"/>
<circle cx="92.8" cy="435.30" r="2.9" fill="#ca0c2b"/>
<circle cx="119.5" cy="435.30" r="2.9" fill="#1b4a7f"/>
<rect x="128.50" y="432.70" width="5.2" height="5.2" fill="#2a0b10"/>
<path d="M167.30 438.05 H173.30 L170.30 432.80Z" fill="#bb6d1c"/>
<text x="33.60" y="445.85" font-size="6.912000000000001" text-anchor="end" fill="#2e2e2e" stroke="#2e2e2e" textLength="14.94" lengthAdjust="spacingAndGlyphs">Pt 10</text>
<line x1="65.50" y1="443.50" x2="103.70" y2="443.50" stroke="#7a7a7a" stroke-width="1.0"/>
<path d="M62.10 440.90 H68.90 L65.50 446.40Z" fill="#1a4277"/>
<circle cx="92.8" cy="443.50" r="2.9" fill="#ca0c2b"/>
<path d="M100.70 446.25 H106.70 L103.70 441.00Z" fill="#bb6d1c"/>
<text x="33.60" y="454.05" font-size="6.912000000000001" text-anchor="end" fill="#2e2e2e" stroke="#2e2e2e" textLength="11.38" lengthAdjust="spacingAndGlyphs">Pt 8</text>
<line x1="65.50" y1="451.70" x2="139.60" y2="451.70" stroke="#7a7a7a" stroke-width="1.0"/>
<path d="M62.10 449.10 H68.90 L65.50 454.60Z" fill="#1a4277"/>
<circle cx="92.8" cy="451.70" r="2.9" fill="#ca0c2b"/>
<circle cx="119.5" cy="451.70" r="2.9" fill="#ca0c2b"/>
<path d="M136.60 454.45 H142.60 L139.60 449.20Z" fill="#bb6d1c"/>
<text x="33.60" y="463.25" font-size="6.912000000000001" text-anchor="end" fill="#2e2e2e" stroke="#2e2e2e" textLength="11.38" lengthAdjust="spacingAndGlyphs">Pt 1</text>
<line x1="65.50" y1="460.90" x2="115.20" y2="460.90" stroke="#7a7a7a" stroke-width="1.0"/>
<path d="M62.10 458.30 H68.90 L65.50 463.80Z" fill="#1a4277"/>
<circle cx="92.8" cy="460.90" r="2.9" fill="#ca0c2b"/>
<path d="M112.20 463.65 H118.20 L115.20 458.40Z" fill="#bb6d1c"/>
<text x="33.60" y="472.35" font-size="6.912000000000001" text-anchor="end" fill="#2e2e2e" stroke="#2e2e2e" textLength="14.94" lengthAdjust="spacingAndGlyphs">Pt 71</text>
<line x1="65.50" y1="470.00" x2="110.40" y2="470.00" stroke="#7a7a7a" stroke-width="1.0"/>
<path d="M62.10 467.40 H68.90 L65.50 472.90Z" fill="#1a4277"/>
<circle cx="92.8" cy="470.00" r="2.9" fill="#ca0c2b"/>
<path d="M107.40 472.75 H113.40 L110.40 467.50Z" fill="#bb6d1c"/>
<text x="33.60" y="481.05" font-size="6.912000000000001" text-anchor="end" fill="#2e2e2e" stroke="#2e2e2e" textLength="14.94" lengthAdjust="spacingAndGlyphs">Pt 57</text>
<line x1="65.50" y1="478.70" x2="199.70" y2="478.70" stroke="#7a7a7a" stroke-width="1.0"/>
<path d="M62.10 476.10 H68.90 L65.50 481.60Z" fill="#1a4277"/>
<circle cx="92.8" cy="478.70" r="2.9" fill="#ca0c2b"/>
<circle cx="119.5" cy="478.70" r="2.9" fill="#1b4a7f"/>
<circle cx="147.0" cy="478.70" r="2.6" fill="#fff" stroke="#d43a55" stroke-width="0.9"/>
<circle cx="173.3" cy="478.70" r="2.9" fill="#ca0c2b"/>
<path d="M196.70 481.45 H202.70 L199.70 476.20Z" fill="#bb6d1c"/>
<text x="33.60" y="490.65" font-size="6.912000000000001" text-anchor="end" fill="#2e2e2e" stroke="#2e2e2e" textLength="14.94" lengthAdjust="spacingAndGlyphs">Pt 60</text>
<line x1="39.50" y1="488.30" x2="212.30" y2="488.30" stroke="#7a7a7a" stroke-width="1.0"/>
<path d="M36.10 485.70 H42.90 L39.50 491.20Z" fill="#1a4277"/>
<circle cx="65.5" cy="488.30" r="2.9" fill="#1b4a7f"/>
<circle cx="92.8" cy="488.30" r="2.9" fill="#1b4a7f"/>
<circle cx="119.5" cy="488.30" r="2.55" fill="#2b5283" stroke="#132b4c" stroke-width="0.9"/>
<text x="119.5" y="489.90" font-size="4.5" text-anchor="middle" fill="#b5c8de">S</text>
<circle cx="147.0" cy="488.30" r="2.6" fill="#fff" stroke="#4d72a0" stroke-width="0.9"/>
<circle cx="173.3" cy="488.30" r="2.9" fill="#a9bf8f"/>
<circle cx="200.0" cy="488.30" r="2.9" fill="#ca0c2b"/>
<path d="M209.30 491.05 H215.30 L212.30 485.80Z" fill="#bb6d1c"/>
<text x="33.60" y="499.75" font-size="6.912000000000001" text-anchor="end" fill="#2e2e2e" stroke="#2e2e2e" textLength="11.38" lengthAdjust="spacingAndGlyphs">Pt 2</text>
<line x1="39.50" y1="497.40" x2="215.00" y2="497.40" stroke="#7a7a7a" stroke-width="1.0"/>
<path d="M36.10 494.80 H42.90 L39.50 500.30Z" fill="#1a4277"/>
<circle cx="65.5" cy="497.40" r="2.9" fill="#1b4a7f"/>
<circle cx="92.8" cy="497.40" r="2.9" fill="#1b4a7f"/>
<circle cx="119.5" cy="497.40" r="2.55" fill="#2b5283" stroke="#132b4c" stroke-width="0.9"/>
<text x="119.5" y="499.00" font-size="4.5" text-anchor="middle" fill="#b5c8de">S</text>
<circle cx="147.0" cy="497.40" r="2.6" fill="#fff" stroke="#4d72a0" stroke-width="0.9"/>
<circle cx="173.3" cy="497.40" r="2.9" fill="#1b4a7f"/>
<circle cx="200.0" cy="497.40" r="2.9" fill="#ca0c2b"/>
<path d="M212.00 500.15 H218.00 L215.00 494.90Z" fill="#bb6d1c"/>
<text x="33.60" y="509.85" font-size="6.912000000000001" text-anchor="end" fill="#2e2e2e" stroke="#2e2e2e" textLength="11.38" lengthAdjust="spacingAndGlyphs">Pt 4</text>
<line x1="39.50" y1="507.50" x2="180.80" y2="507.50" stroke="#7a7a7a" stroke-width="1.0"/>
<path d="M36.10 504.90 H42.90 L39.50 510.40Z" fill="#1a4277"/>
<circle cx="65.5" cy="507.50" r="2.9" fill="#1b4a7f"/>
<circle cx="92.8" cy="507.50" r="2.9" fill="#1b4a7f"/>
<circle cx="119.5" cy="507.50" r="2.55" fill="#2b5283" stroke="#132b4c" stroke-width="0.9"/>
<text x="119.5" y="509.10" font-size="4.5" text-anchor="middle" fill="#b5c8de">S</text>
<circle cx="147.0" cy="507.50" r="2.6" fill="#fff" stroke="#4d72a0" stroke-width="0.9"/>
<circle cx="173.3" cy="507.50" r="2.9" fill="#ca0c2b"/>
<path d="M177.80 510.25 H183.80 L180.80 505.00Z" fill="#bb6d1c"/>
<text x="33.60" y="519.25" font-size="6.912000000000001" text-anchor="end" fill="#2e2e2e" stroke="#2e2e2e" textLength="14.94" lengthAdjust="spacingAndGlyphs">Pt 51</text>
<line x1="39.50" y1="516.90" x2="155.20" y2="516.90" stroke="#7a7a7a" stroke-width="1.0"/>
<path d="M36.10 514.30 H42.90 L39.50 519.80Z" fill="#1a4277"/>
<circle cx="65.5" cy="516.90" r="2.9" fill="#1b4a7f"/>
<circle cx="92.8" cy="516.90" r="2.9" fill="#1b4a7f"/>
<circle cx="119.5" cy="516.90" r="2.55" fill="#2b5283" stroke="#132b4c" stroke-width="0.9"/>
<text x="119.5" y="518.50" font-size="4.5" text-anchor="middle" fill="#b5c8de">S</text>
<circle cx="147.0" cy="516.90" r="2.6" fill="#fff" stroke="#d43a55" stroke-width="0.9"/>
<path d="M152.20 519.65 H158.20 L155.20 514.40Z" fill="#bb6d1c"/>
<text x="33.60" y="528.85" font-size="6.912000000000001" text-anchor="end" fill="#2e2e2e" stroke="#2e2e2e" textLength="14.94" lengthAdjust="spacingAndGlyphs">Pt 30</text>
<line x1="39.50" y1="526.50" x2="169.20" y2="526.50" stroke="#7a7a7a" stroke-width="1.0"/>
<path d="M36.10 523.90 H42.90 L39.50 529.40Z" fill="#1a4277"/>
<circle cx="65.5" cy="526.50" r="2.9" fill="#1b4a7f"/>
<circle cx="92.8" cy="526.50" r="2.9" fill="#1b4a7f"/>
<circle cx="119.5" cy="526.50" r="2.55" fill="#2b5283" stroke="#132b4c" stroke-width="0.9"/>
<text x="119.5" y="528.10" font-size="4.5" text-anchor="middle" fill="#b5c8de">S</text>
<circle cx="147.0" cy="526.50" r="2.6" fill="#fff" stroke="#d43a55" stroke-width="0.9"/>
<path d="M166.20 529.25 H172.20 L169.20 524.00Z" fill="#bb6d1c"/>
<text x="33.60" y="537.65" font-size="6.912000000000001" text-anchor="end" fill="#2e2e2e" stroke="#2e2e2e" textLength="14.94" lengthAdjust="spacingAndGlyphs">Pt 43</text>
<line x1="39.50" y1="535.30" x2="169.80" y2="535.30" stroke="#7a7a7a" stroke-width="1.0"/>
<path d="M36.10 532.70 H42.90 L39.50 538.20Z" fill="#1a4277"/>
<circle cx="65.5" cy="535.30" r="2.9" fill="#1b4a7f"/>
<circle cx="92.8" cy="535.30" r="2.9" fill="#1b4a7f"/>
<circle cx="119.5" cy="535.30" r="2.55" fill="#2b5283" stroke="#132b4c" stroke-width="0.9"/>
<text x="119.5" y="536.90" font-size="4.5" text-anchor="middle" fill="#b5c8de">S</text>
<circle cx="147.0" cy="535.30" r="2.6" fill="#fff" stroke="#d43a55" stroke-width="0.9"/>
<path d="M166.80 538.05 H172.80 L169.80 532.80Z" fill="#bb6d1c"/>
<text x="33.60" y="546.15" font-size="6.912000000000001" text-anchor="end" fill="#2e2e2e" stroke="#2e2e2e" textLength="14.94" lengthAdjust="spacingAndGlyphs">Pt 63</text>
<line x1="39.50" y1="543.80" x2="199.70" y2="543.80" stroke="#7a7a7a" stroke-width="1.0"/>
<path d="M36.10 541.20 H42.90 L39.50 546.70Z" fill="#1a4277"/>
<circle cx="65.5" cy="543.80" r="2.9" fill="#1b4a7f"/>
<circle cx="92.8" cy="543.80" r="2.9" fill="#1b4a7f"/>
<circle cx="119.5" cy="543.80" r="2.9" fill="#ca0c2b"/>
<circle cx="147.0" cy="543.80" r="2.6" fill="#fff" stroke="#d43a55" stroke-width="0.9"/>
<circle cx="173.3" cy="543.80" r="2.9" fill="#ca0c2b"/>
<path d="M196.70 546.55 H202.70 L199.70 541.30Z" fill="#bb6d1c"/>
<text x="33.60" y="555.35" font-size="6.912000000000001" text-anchor="end" fill="#2e2e2e" stroke="#2e2e2e" textLength="14.94" lengthAdjust="spacingAndGlyphs">Pt 55</text>
<line x1="39.50" y1="553.00" x2="182.20" y2="553.00" stroke="#7a7a7a" stroke-width="1.0"/>
<path d="M36.10 550.40 H42.90 L39.50 555.90Z" fill="#1a4277"/>
<circle cx="65.5" cy="553.00" r="2.9" fill="#ca0c2b"/>
<circle cx="92.8" cy="553.00" r="2.9" fill="#1b4a7f"/>
<rect x="96.90" y="550.40" width="5.2" height="5.2" fill="#2a0b10"/>
<path d="M179.20 555.75 H185.20 L182.20 550.50Z" fill="#bb6d1c"/>
<text x="33.60" y="563.85" font-size="6.912000000000001" text-anchor="end" fill="#2e2e2e" stroke="#2e2e2e" textLength="14.94" lengthAdjust="spacingAndGlyphs">Pt 16</text>
<line x1="39.50" y1="561.50" x2="205.60" y2="561.50" stroke="#7a7a7a" stroke-width="1.0"/>
<path d="M36.10 558.90 H42.90 L39.50 564.40Z" fill="#1a4277"/>
<circle cx="65.5" cy="561.50" r="2.9" fill="#ca0c2b"/>
<circle cx="92.8" cy="561.50" r="2.9" fill="#1b4a7f"/>
<circle cx="119.5" cy="561.50" r="2.9" fill="#1b4a7f"/>
<rect x="124.90" y="558.90" width="5.2" height="5.2" fill="#2a0b10"/>
<path d="M202.60 564.25 H208.60 L205.60 559.00Z" fill="#bb6d1c"/>
<text x="281.40" y="248.55" font-size="6.912000000000001" text-anchor="end" fill="#2e2e2e" stroke="#2e2e2e" textLength="14.94" lengthAdjust="spacingAndGlyphs">Pt 19</text>
<line x1="366.30" y1="246.20" x2="498.50" y2="246.20" stroke="#7a7a7a" stroke-width="1.0"/>
<path d="M362.90 243.60 H369.70 L366.30 249.10Z" fill="#1a4277"/>
<circle cx="394.1" cy="246.20" r="3.0" fill="#e2eaf3" stroke="#4f6f97" stroke-width="0.95"/>
<text x="394.1" y="247.95" font-size="4.9" text-anchor="middle" fill="#4f6f97">S</text>
<circle cx="420.6" cy="246.20" r="2.9" fill="#1b4a7f"/>
<circle cx="447.2" cy="246.20" r="2.9" fill="#ca0c2b"/>
<circle cx="474.0" cy="246.20" r="2.9" fill="#ca0c2b"/>
<path d="M496.20 246.20 L498.50 243.90 L500.80 246.20 L498.50 248.50Z" fill="#c6c6ca"/>
<text x="281.40" y="258.75" font-size="6.912000000000001" text-anchor="end" fill="#2e2e2e" stroke="#2e2e2e" textLength="14.94" lengthAdjust="spacingAndGlyphs">Pt 29</text>
<line x1="366.30" y1="256.40" x2="489.70" y2="256.40" stroke="#7a7a7a" stroke-width="1.0"/>
<path d="M362.90 253.80 H369.70 L366.30 259.30Z" fill="#1a4277"/>
<circle cx="394.1" cy="256.40" r="3.0" fill="#e2eaf3" stroke="#4f6f97" stroke-width="0.95"/>
<text x="394.1" y="258.15" font-size="4.9" text-anchor="middle" fill="#4f6f97">S</text>
<circle cx="420.6" cy="256.40" r="2.9" fill="#a9bf8f"/>
<circle cx="447.2" cy="256.40" r="2.9" fill="#a9bf8f"/>
<circle cx="474.0" cy="256.40" r="2.9" fill="#ca0c2b"/>
<path d="M487.40 256.40 L489.70 254.10 L492.00 256.40 L489.70 258.70Z" fill="#c6c6ca"/>
<text x="281.40" y="267.25" font-size="6.912000000000001" text-anchor="end" fill="#2e2e2e" stroke="#2e2e2e" textLength="14.94" lengthAdjust="spacingAndGlyphs">Pt 27</text>
<line x1="366.30" y1="264.90" x2="493.20" y2="264.90" stroke="#7a7a7a" stroke-width="1.0"/>
<path d="M362.90 262.30 H369.70 L366.30 267.80Z" fill="#1a4277"/>
<circle cx="394.1" cy="264.90" r="3.0" fill="#e2eaf3" stroke="#4f6f97" stroke-width="0.95"/>
<text x="394.1" y="266.65" font-size="4.9" text-anchor="middle" fill="#4f6f97">S</text>
<circle cx="420.6" cy="264.90" r="2.9" fill="#a9bf8f"/>
<circle cx="447.2" cy="264.90" r="2.9" fill="#a9bf8f"/>
<circle cx="474.0" cy="264.90" r="2.9" fill="#ca0c2b"/>
<path d="M490.90 264.90 L493.20 262.60 L495.50 264.90 L493.20 267.20Z" fill="#c6c6ca"/>
<text x="281.40" y="276.05" font-size="6.912000000000001" text-anchor="end" fill="#2e2e2e" stroke="#2e2e2e" textLength="14.94" lengthAdjust="spacingAndGlyphs">Pt 70</text>
<line x1="366.30" y1="273.70" x2="474.30" y2="273.70" stroke="#7a7a7a" stroke-width="1.0"/>
<path d="M362.90 271.10 H369.70 L366.30 276.60Z" fill="#1a4277"/>
<circle cx="394.1" cy="273.70" r="3.0" fill="#e2eaf3" stroke="#4f6f97" stroke-width="0.95"/>
<text x="394.1" y="275.45" font-size="4.9" text-anchor="middle" fill="#4f6f97">S</text>
<circle cx="420.6" cy="273.70" r="2.9" fill="#ca0c2b"/>
<circle cx="447.2" cy="273.70" r="2.9" fill="#a9bf8f"/>
<path d="M472.00 273.70 L474.30 271.40 L476.60 273.70 L474.30 276.00Z" fill="#c6c6ca"/>
<text x="281.40" y="284.15" font-size="6.912000000000001" text-anchor="end" fill="#2e2e2e" stroke="#2e2e2e" textLength="11.38" lengthAdjust="spacingAndGlyphs">Pt 9</text>
<line x1="366.30" y1="281.80" x2="498.50" y2="281.80" stroke="#7a7a7a" stroke-width="1.0"/>
<path d="M362.90 279.20 H369.70 L366.30 284.70Z" fill="#1a4277"/>
<circle cx="394.1" cy="281.80" r="2.6" fill="#fff" stroke="#d43a55" stroke-width="0.9"/>
<circle cx="420.6" cy="281.80" r="2.9" fill="#ca0c2b"/>
<circle cx="447.2" cy="281.80" r="2.9" fill="#ca0c2b"/>
<circle cx="474.0" cy="281.80" r="2.9" fill="#ca0c2b"/>
<path d="M496.20 281.80 L498.50 279.50 L500.80 281.80 L498.50 284.10Z" fill="#c6c6ca"/>
<text x="281.40" y="293.05" font-size="6.912000000000001" text-anchor="end" fill="#2e2e2e" stroke="#2e2e2e" textLength="14.94" lengthAdjust="spacingAndGlyphs">Pt 26</text>
<line x1="366.30" y1="290.70" x2="490.50" y2="290.70" stroke="#7a7a7a" stroke-width="1.0"/>
<path d="M362.90 288.10 H369.70 L366.30 293.60Z" fill="#1a4277"/>
<circle cx="394.1" cy="290.70" r="3.0" fill="#e2eaf3" stroke="#4f6f97" stroke-width="0.95"/>
<text x="394.1" y="292.45" font-size="4.9" text-anchor="middle" fill="#4f6f97">S</text>
<circle cx="420.6" cy="290.70" r="2.9" fill="#a9bf8f"/>
<circle cx="447.2" cy="290.70" r="2.9" fill="#1b4a7f"/>
<circle cx="474.0" cy="290.70" r="2.9" fill="#ca0c2b"/>
<path d="M488.20 290.70 L490.50 288.40 L492.80 290.70 L490.50 293.00Z" fill="#c6c6ca"/>
<text x="281.40" y="301.75" font-size="6.912000000000001" text-anchor="end" fill="#2e2e2e" stroke="#2e2e2e" textLength="14.94" lengthAdjust="spacingAndGlyphs">Pt 41</text>
<line x1="366.30" y1="299.40" x2="485.10" y2="299.40" stroke="#7a7a7a" stroke-width="1.0"/>
<path d="M362.90 296.80 H369.70 L366.30 302.30Z" fill="#1a4277"/>
<circle cx="394.1" cy="299.40" r="3.0" fill="#e2eaf3" stroke="#4f6f97" stroke-width="0.95"/>
<text x="394.1" y="301.15" font-size="4.9" text-anchor="middle" fill="#4f6f97">S</text>
<circle cx="420.6" cy="299.40" r="2.9" fill="#1b4a7f"/>
<circle cx="447.2" cy="299.40" r="2.9" fill="#1b4a7f"/>
<circle cx="474.0" cy="299.40" r="2.9" fill="#ca0c2b"/>
<path d="M482.80 299.40 L485.10 297.10 L487.40 299.40 L485.10 301.70Z" fill="#c6c6ca"/>
<text x="281.40" y="311.05" font-size="6.912000000000001" text-anchor="end" fill="#2e2e2e" stroke="#2e2e2e" textLength="14.94" lengthAdjust="spacingAndGlyphs">Pt 69</text>
<line x1="366.30" y1="308.70" x2="474.30" y2="308.70" stroke="#7a7a7a" stroke-width="1.0"/>
<path d="M362.90 306.10 H369.70 L366.30 311.60Z" fill="#1a4277"/>
<circle cx="394.1" cy="308.70" r="3.0" fill="#e2eaf3" stroke="#4f6f97" stroke-width="0.95"/>
<text x="394.1" y="310.45" font-size="4.9" text-anchor="middle" fill="#4f6f97">S</text>
<circle cx="420.6" cy="308.70" r="2.9" fill="#1b4a7f"/>
<circle cx="447.2" cy="308.70" r="2.9" fill="#ca0c2b"/>
<path d="M472.00 308.70 L474.30 306.40 L476.60 308.70 L474.30 311.00Z" fill="#c6c6ca"/>
<text x="281.40" y="320.15" font-size="6.912000000000001" text-anchor="end" fill="#2e2e2e" stroke="#2e2e2e" textLength="14.94" lengthAdjust="spacingAndGlyphs">Pt 65</text>
<line x1="366.30" y1="317.80" x2="474.30" y2="317.80" stroke="#7a7a7a" stroke-width="1.0"/>
<path d="M362.90 315.20 H369.70 L366.30 320.70Z" fill="#1a4277"/>
<circle cx="394.1" cy="317.80" r="3.0" fill="#e2eaf3" stroke="#4f6f97" stroke-width="0.95"/>
<text x="394.1" y="319.55" font-size="4.9" text-anchor="middle" fill="#4f6f97">S</text>
<circle cx="420.6" cy="317.80" r="2.9" fill="#ca0c2b"/>
<circle cx="447.2" cy="317.80" r="2.9" fill="#1b4a7f"/>
<path d="M472.00 317.80 L474.30 315.50 L476.60 317.80 L474.30 320.10Z" fill="#c6c6ca"/>
<text x="281.40" y="329.05" font-size="6.912000000000001" text-anchor="end" fill="#2e2e2e" stroke="#2e2e2e" textLength="14.94" lengthAdjust="spacingAndGlyphs">Pt 31</text>
<line x1="366.30" y1="326.70" x2="490.50" y2="326.70" stroke="#7a7a7a" stroke-width="1.0"/>
<path d="M362.90 324.10 H369.70 L366.30 329.60Z" fill="#1a4277"/>
<circle cx="394.1" cy="326.70" r="3.0" fill="#e2eaf3" stroke="#4f6f97" stroke-width="0.95"/>
<text x="394.1" y="328.45" font-size="4.9" text-anchor="middle" fill="#4f6f97">S</text>
<circle cx="420.6" cy="326.70" r="2.9" fill="#ca0c2b"/>
<circle cx="447.2" cy="326.70" r="2.9" fill="#ca0c2b"/>
<circle cx="474.0" cy="326.70" r="2.9" fill="#a9bf8f"/>
<path d="M488.20 326.70 L490.50 324.40 L492.80 326.70 L490.50 329.00Z" fill="#c6c6ca"/>
<text x="281.40" y="337.65" font-size="6.912000000000001" text-anchor="end" fill="#2e2e2e" stroke="#2e2e2e" textLength="14.94" lengthAdjust="spacingAndGlyphs">Pt 38</text>
<line x1="340.00" y1="335.30" x2="490.50" y2="335.30" stroke="#7a7a7a" stroke-width="1.0"/>
<path d="M336.60 332.70 H343.40 L340.00 338.20Z" fill="#1a4277"/>
<circle cx="366.3" cy="335.30" r="2.9" fill="#ca0c2b"/>
<circle cx="394.1" cy="335.30" r="2.6" fill="#fff" stroke="#d43a55" stroke-width="0.9"/>
<circle cx="420.6" cy="335.30" r="2.9" fill="#ca0c2b"/>
<circle cx="447.2" cy="335.30" r="2.9" fill="#ca0c2b"/>
<circle cx="474.0" cy="335.30" r="2.9" fill="#ca0c2b"/>
<path d="M488.20 335.30 L490.50 333.00 L492.80 335.30 L490.50 337.60Z" fill="#c6c6ca"/>
<text x="281.40" y="347.65" font-size="6.912000000000001" text-anchor="end" fill="#2e2e2e" stroke="#2e2e2e" textLength="14.94" lengthAdjust="spacingAndGlyphs">Pt 20</text>
<line x1="340.00" y1="345.30" x2="495.90" y2="345.30" stroke="#7a7a7a" stroke-width="1.0"/>
<path d="M336.60 342.70 H343.40 L340.00 348.20Z" fill="#1a4277"/>
<circle cx="366.3" cy="345.30" r="2.9" fill="#a9bf8f"/>
<circle cx="394.1" cy="345.30" r="2.6" fill="#fff" stroke="#d43a55" stroke-width="0.9"/>
<circle cx="420.6" cy="345.30" r="2.9" fill="#ca0c2b"/>
<circle cx="447.2" cy="345.30" r="2.9" fill="#ca0c2b"/>
<circle cx="474.0" cy="345.30" r="2.9" fill="#ca0c2b"/>
<path d="M493.60 345.30 L495.90 343.00 L498.20 345.30 L495.90 347.60Z" fill="#c6c6ca"/>
<text x="281.40" y="356.15" font-size="6.912000000000001" text-anchor="end" fill="#2e2e2e" stroke="#2e2e2e" textLength="14.94" lengthAdjust="spacingAndGlyphs">Pt 35</text>
<line x1="340.00" y1="353.80" x2="489.70" y2="353.80" stroke="#7a7a7a" stroke-width="1.0"/>
<path d="M336.60 351.20 H343.40 L340.00 356.70Z" fill="#1a4277"/>
<circle cx="366.3" cy="353.80" r="2.9" fill="#a9bf8f"/>
<circle cx="394.1" cy="353.80" r="2.6" fill="#fff" stroke="#d43a55" stroke-width="0.9"/>
<circle cx="420.6" cy="353.80" r="2.9" fill="#a9bf8f"/>
<circle cx="447.2" cy="353.80" r="2.9" fill="#1b4a7f"/>
<circle cx="474.0" cy="353.80" r="2.9" fill="#1b4a7f"/>
<path d="M487.40 353.80 L489.70 351.50 L492.00 353.80 L489.70 356.10Z" fill="#c6c6ca"/>
<text x="281.40" y="365.65" font-size="6.912000000000001" text-anchor="end" fill="#2e2e2e" stroke="#2e2e2e" textLength="14.94" lengthAdjust="spacingAndGlyphs">Pt 23</text>
<line x1="340.00" y1="363.30" x2="485.90" y2="363.30" stroke="#7a7a7a" stroke-width="1.0"/>
<path d="M336.60 360.70 H343.40 L340.00 366.20Z" fill="#1a4277"/>
<circle cx="366.3" cy="363.30" r="2.9" fill="#ca0c2b"/>
<circle cx="394.1" cy="363.30" r="2.6" fill="#fff" stroke="#4d72a0" stroke-width="0.9"/>
<circle cx="420.6" cy="363.30" r="2.9" fill="#1b4a7f"/>
<circle cx="447.2" cy="363.30" r="2.9" fill="#a9bf8f"/>
<circle cx="474.0" cy="363.30" r="2.9" fill="#1b4a7f"/>
<path d="M483.60 363.30 L485.90 361.00 L488.20 363.30 L485.90 365.60Z" fill="#c6c6ca"/>
<text x="281.40" y="374.75" font-size="6.912000000000001" text-anchor="end" fill="#2e2e2e" stroke="#2e2e2e" textLength="14.94" lengthAdjust="spacingAndGlyphs">Pt 54</text>
<line x1="313.30" y1="372.40" x2="479.70" y2="372.40" stroke="#7a7a7a" stroke-width="1.0"/>
<path d="M309.90 369.80 H316.70 L313.30 375.30Z" fill="#1a4277"/>
<circle cx="340.0" cy="372.40" r="2.9" fill="#1b4a7f"/>
<circle cx="366.3" cy="372.40" r="2.55" fill="#2b5283" stroke="#132b4c" stroke-width="0.9"/>
<text x="366.3" y="374.00" font-size="4.5" text-anchor="middle" fill="#b5c8de">S</text>
<circle cx="394.1" cy="372.40" r="2.6" fill="#fff" stroke="#4d72a0" stroke-width="0.9"/>
<circle cx="420.6" cy="372.40" r="2.9" fill="#1b4a7f"/>
<circle cx="447.2" cy="372.40" r="2.9" fill="#1b4a7f"/>
<circle cx="474.0" cy="372.40" r="2.9" fill="#ca0c2b"/>
<path d="M477.40 372.40 L479.70 370.10 L482.00 372.40 L479.70 374.70Z" fill="#c6c6ca"/>
<text x="281.40" y="384.05" font-size="6.912000000000001" text-anchor="end" fill="#2e2e2e" stroke="#2e2e2e" textLength="14.94" lengthAdjust="spacingAndGlyphs">Pt 18</text>
<line x1="313.30" y1="381.70" x2="496.70" y2="381.70" stroke="#7a7a7a" stroke-width="1.0"/>
<path d="M309.90 379.10 H316.70 L313.30 384.60Z" fill="#1a4277"/>
<circle cx="340.0" cy="381.70" r="2.9" fill="#1b4a7f"/>
<circle cx="366.3" cy="381.70" r="2.55" fill="#2b5283" stroke="#132b4c" stroke-width="0.9"/>
<text x="366.3" y="383.30" font-size="4.5" text-anchor="middle" fill="#b5c8de">S</text>
<circle cx="394.1" cy="381.70" r="2.6" fill="#fff" stroke="#4d72a0" stroke-width="0.9"/>
<circle cx="420.6" cy="381.70" r="2.9" fill="#1b4a7f"/>
<circle cx="447.2" cy="381.70" r="2.9" fill="#ca0c2b"/>
<circle cx="474.0" cy="381.70" r="2.9" fill="#ca0c2b"/>
<path d="M494.40 381.70 L496.70 379.40 L499.00 381.70 L496.70 384.00Z" fill="#c6c6ca"/>
<text x="281.40" y="393.15" font-size="6.912000000000001" text-anchor="end" fill="#2e2e2e" stroke="#2e2e2e" textLength="14.94" lengthAdjust="spacingAndGlyphs">Pt 50</text>
<line x1="313.30" y1="390.80" x2="481.00" y2="390.80" stroke="#7a7a7a" stroke-width="1.0"/>
<path d="M309.90 388.20 H316.70 L313.30 393.70Z" fill="#1a4277"/>
<circle cx="340.0" cy="390.80" r="2.9" fill="#1b4a7f"/>
<circle cx="366.3" cy="390.80" r="2.55" fill="#2b5283" stroke="#132b4c" stroke-width="0.9"/>
<text x="366.3" y="392.40" font-size="4.5" text-anchor="middle" fill="#b5c8de">S</text>
<circle cx="394.1" cy="390.80" r="2.6" fill="#fff" stroke="#4d72a0" stroke-width="0.9"/>
<circle cx="420.6" cy="390.80" r="2.9" fill="#1b4a7f"/>
<circle cx="447.2" cy="390.80" r="2.9" fill="#ca0c2b"/>
<circle cx="474.0" cy="390.80" r="2.9" fill="#a9bf8f"/>
<path d="M478.70 390.80 L481.00 388.50 L483.30 390.80 L481.00 393.10Z" fill="#c6c6ca"/>
<text x="281.40" y="402.25" font-size="6.912000000000001" text-anchor="end" fill="#2e2e2e" stroke="#2e2e2e" textLength="14.94" lengthAdjust="spacingAndGlyphs">Pt 40</text>
<line x1="313.30" y1="399.90" x2="483.70" y2="399.90" stroke="#7a7a7a" stroke-width="1.0"/>
<path d="M309.90 397.30 H316.70 L313.30 402.80Z" fill="#1a4277"/>
<circle cx="340.0" cy="399.90" r="2.9" fill="#1b4a7f"/>
<circle cx="366.3" cy="399.90" r="2.55" fill="#2b5283" stroke="#132b4c" stroke-width="0.9"/>
<text x="366.3" y="401.50" font-size="4.5" text-anchor="middle" fill="#b5c8de">S</text>
<circle cx="394.1" cy="399.90" r="2.6" fill="#fff" stroke="#4d72a0" stroke-width="0.9"/>
<circle cx="420.6" cy="399.90" r="2.9" fill="#ca0c2b"/>
<circle cx="447.2" cy="399.90" r="2.9" fill="#ca0c2b"/>
<circle cx="474.0" cy="399.90" r="2.9" fill="#ca0c2b"/>
<path d="M481.40 399.90 L483.70 397.60 L486.00 399.90 L483.70 402.20Z" fill="#c6c6ca"/>
<text x="281.40" y="411.55" font-size="6.912000000000001" text-anchor="end" fill="#2e2e2e" stroke="#2e2e2e" textLength="11.38" lengthAdjust="spacingAndGlyphs">Pt 7</text>
<line x1="313.30" y1="409.20" x2="505.30" y2="409.20" stroke="#7a7a7a" stroke-width="1.0"/>
<path d="M309.90 406.60 H316.70 L313.30 412.10Z" fill="#1a4277"/>
<circle cx="340.0" cy="409.20" r="2.9" fill="#1b4a7f"/>
<circle cx="366.3" cy="409.20" r="2.55" fill="#2b5283" stroke="#132b4c" stroke-width="0.9"/>
<text x="366.3" y="410.80" font-size="4.5" text-anchor="middle" fill="#b5c8de">S</text>
<circle cx="394.1" cy="409.20" r="2.6" fill="#fff" stroke="#d43a55" stroke-width="0.9"/>
<circle cx="420.6" cy="409.20" r="2.9" fill="#ca0c2b"/>
<circle cx="447.2" cy="409.20" r="2.9" fill="#ca0c2b"/>
<circle cx="474.0" cy="409.20" r="2.9" fill="#ca0c2b"/>
<path d="M503.00 409.20 L505.30 406.90 L507.60 409.20 L505.30 411.50Z" fill="#c6c6ca"/>
<text x="281.40" y="420.65" font-size="6.912000000000001" text-anchor="end" fill="#2e2e2e" stroke="#2e2e2e" textLength="14.94" lengthAdjust="spacingAndGlyphs">Pt 48</text>
<line x1="313.30" y1="418.30" x2="481.00" y2="418.30" stroke="#7a7a7a" stroke-width="1.0"/>
<path d="M309.90 415.70 H316.70 L313.30 421.20Z" fill="#1a4277"/>
<circle cx="340.0" cy="418.30" r="2.9" fill="#1b4a7f"/>
<circle cx="366.3" cy="418.30" r="2.9" fill="#ca0c2b"/>
<circle cx="394.1" cy="418.30" r="2.6" fill="#fff" stroke="#d43a55" stroke-width="0.9"/>
<circle cx="420.6" cy="418.30" r="2.9" fill="#ca0c2b"/>
<circle cx="447.2" cy="418.30" r="2.9" fill="#1b4a7f"/>
<circle cx="474.0" cy="418.30" r="2.9" fill="#ca0c2b"/>
<path d="M478.70 418.30 L481.00 416.00 L483.30 418.30 L481.00 420.60Z" fill="#c6c6ca"/>
<text x="281.40" y="429.55" font-size="6.912000000000001" text-anchor="end" fill="#2e2e2e" stroke="#2e2e2e" textLength="14.94" lengthAdjust="spacingAndGlyphs">Pt 68</text>
<line x1="313.30" y1="427.20" x2="479.70" y2="427.20" stroke="#7a7a7a" stroke-width="1.0"/>
<path d="M309.90 424.60 H316.70 L313.30 430.10Z" fill="#1a4277"/>
<circle cx="340.0" cy="427.20" r="2.9" fill="#ca0c2b"/>
<circle cx="366.3" cy="427.20" r="2.9" fill="#a9bf8f"/>
<circle cx="394.1" cy="427.20" r="2.6" fill="#fff" stroke="#d43a55" stroke-width="0.9"/>
<circle cx="420.6" cy="427.20" r="2.9" fill="#1b4a7f"/>
<circle cx="447.2" cy="427.20" r="2.9" fill="#1b4a7f"/>
<circle cx="474.0" cy="427.20" r="2.9" fill="#1b4a7f"/>
<path d="M477.40 427.20 L479.70 424.90 L482.00 427.20 L479.70 429.50Z" fill="#c6c6ca"/>
<text x="281.40" y="437.55" font-size="6.912000000000001" text-anchor="end" fill="#2e2e2e" stroke="#2e2e2e" textLength="14.94" lengthAdjust="spacingAndGlyphs">Pt 25</text>
<line x1="313.30" y1="435.20" x2="496.40" y2="435.20" stroke="#7a7a7a" stroke-width="1.0"/>
<path d="M309.90 432.60 H316.70 L313.30 438.10Z" fill="#1a4277"/>
<circle cx="340.0" cy="435.20" r="2.9" fill="#ca0c2b"/>
<circle cx="366.3" cy="435.20" r="2.9" fill="#1b4a7f"/>
<circle cx="394.1" cy="435.20" r="2.6" fill="#fff" stroke="#4d72a0" stroke-width="0.9"/>
<circle cx="420.6" cy="435.20" r="2.9" fill="#1b4a7f"/>
<circle cx="447.2" cy="435.20" r="2.9" fill="#1b4a7f"/>
<circle cx="474.0" cy="435.20" r="2.9" fill="#1b4a7f"/>
<path d="M494.10 435.20 L496.40 432.90 L498.70 435.20 L496.40 437.50Z" fill="#c6c6ca"/>
<text x="281.40" y="446.05" font-size="6.912000000000001" text-anchor="end" fill="#2e2e2e" stroke="#2e2e2e" textLength="14.94" lengthAdjust="spacingAndGlyphs">Pt 28</text>
<line x1="313.30" y1="443.70" x2="493.20" y2="443.70" stroke="#7a7a7a" stroke-width="1.0"/>
<path d="M309.90 441.10 H316.70 L313.30 446.60Z" fill="#1a4277"/>
<circle cx="340.0" cy="443.70" r="2.9" fill="#ca0c2b"/>
<rect x="359.50" y="441.10" width="5.2" height="5.2" fill="#2a0b10"/>
<path d="M490.90 443.70 L493.20 441.40 L495.50 443.70 L493.20 446.00Z" fill="#c6c6ca"/>
<text x="281.40" y="454.05" font-size="6.912000000000001" text-anchor="end" fill="#2e2e2e" stroke="#2e2e2e" textLength="11.38" lengthAdjust="spacingAndGlyphs">Pt 3</text>
<line x1="313.30" y1="451.70" x2="510.70" y2="451.70" stroke="#7a7a7a" stroke-width="1.0"/>
<path d="M309.90 449.10 H316.70 L313.30 454.60Z" fill="#1a4277"/>
<circle cx="340.0" cy="451.70" r="2.9" fill="#ca0c2b"/>
<circle cx="366.3" cy="451.70" r="2.9" fill="#ca0c2b"/>
<circle cx="394.1" cy="451.70" r="2.6" fill="#fff" stroke="#d43a55" stroke-width="0.9"/>
<circle cx="420.6" cy="451.70" r="2.9" fill="#1b4a7f"/>
<circle cx="447.2" cy="451.70" r="2.9" fill="#1b4a7f"/>
<circle cx="474.0" cy="451.70" r="2.9" fill="#ca0c2b"/>
<path d="M508.40 451.70 L510.70 449.40 L513.00 451.70 L510.70 454.00Z" fill="#c6c6ca"/>
<text x="281.40" y="463.25" font-size="6.912000000000001" text-anchor="end" fill="#2e2e2e" stroke="#2e2e2e" textLength="14.94" lengthAdjust="spacingAndGlyphs">Pt 49</text>
<line x1="313.30" y1="460.90" x2="482.90" y2="460.90" stroke="#7a7a7a" stroke-width="1.0"/>
<path d="M309.90 458.30 H316.70 L313.30 463.80Z" fill="#1a4277"/>
<circle cx="340.0" cy="460.90" r="2.9" fill="#ca0c2b"/>
<circle cx="366.3" cy="460.90" r="2.9" fill="#1b4a7f"/>
<circle cx="394.1" cy="460.90" r="2.6" fill="#fff" stroke="#d43a55" stroke-width="0.9"/>
<circle cx="420.6" cy="460.90" r="2.9" fill="#1b4a7f"/>
<circle cx="447.2" cy="460.90" r="2.9" fill="#1b4a7f"/>
<circle cx="474.0" cy="460.90" r="2.9" fill="#ca0c2b"/>
<path d="M480.60 460.90 L482.90 458.60 L485.20 460.90 L482.90 463.20Z" fill="#c6c6ca"/>
<text x="281.40" y="472.75" font-size="6.912000000000001" text-anchor="end" fill="#2e2e2e" stroke="#2e2e2e" textLength="14.94" lengthAdjust="spacingAndGlyphs">Pt 42</text>
<line x1="313.30" y1="470.40" x2="492.40" y2="470.40" stroke="#7a7a7a" stroke-width="1.0"/>
<path d="M309.90 467.80 H316.70 L313.30 473.30Z" fill="#1a4277"/>
<circle cx="340.0" cy="470.40" r="2.9" fill="#ca0c2b"/>
<circle cx="366.3" cy="470.40" r="2.9" fill="#1b4a7f"/>
<circle cx="394.1" cy="470.40" r="2.6" fill="#fff" stroke="#4d72a0" stroke-width="0.9"/>
<circle cx="420.6" cy="470.40" r="2.9" fill="#1b4a7f"/>
<circle cx="447.2" cy="470.40" r="2.9" fill="#1b4a7f"/>
<circle cx="474.0" cy="470.40" r="2.9" fill="#1b4a7f"/>
<path d="M490.10 470.40 L492.40 468.10 L494.70 470.40 L492.40 472.70Z" fill="#c6c6ca"/>
<text x="281.40" y="481.65" font-size="6.912000000000001" text-anchor="end" fill="#2e2e2e" stroke="#2e2e2e" textLength="14.94" lengthAdjust="spacingAndGlyphs">Pt 32</text>
<line x1="287.40" y1="479.30" x2="495.90" y2="479.30" stroke="#7a7a7a" stroke-width="1.0"/>
<path d="M284.00 476.70 H290.80 L287.40 482.20Z" fill="#1a4277"/>
<circle cx="313.3" cy="479.30" r="2.9" fill="#1b4a7f"/>
<circle cx="340.0" cy="479.30" r="2.9" fill="#1b4a7f"/>
<circle cx="366.3" cy="479.30" r="2.55" fill="#2b5283" stroke="#132b4c" stroke-width="0.9"/>
<text x="366.3" y="480.90" font-size="4.5" text-anchor="middle" fill="#b5c8de">S</text>
<circle cx="394.1" cy="479.30" r="2.6" fill="#fff" stroke="#4d72a0" stroke-width="0.9"/>
<circle cx="420.6" cy="479.30" r="2.9" fill="#a9bf8f"/>
<circle cx="447.2" cy="479.30" r="2.9" fill="#1b4a7f"/>
<circle cx="474.0" cy="479.30" r="2.9" fill="#ca0c2b"/>
<path d="M493.60 479.30 L495.90 477.00 L498.20 479.30 L495.90 481.60Z" fill="#c6c6ca"/>
<text x="281.40" y="490.75" font-size="6.912000000000001" text-anchor="end" fill="#2e2e2e" stroke="#2e2e2e" textLength="14.94" lengthAdjust="spacingAndGlyphs">Pt 46</text>
<line x1="287.40" y1="488.40" x2="481.60" y2="488.40" stroke="#7a7a7a" stroke-width="1.0"/>
<path d="M284.00 485.80 H290.80 L287.40 491.30Z" fill="#1a4277"/>
<circle cx="313.3" cy="488.40" r="2.9" fill="#1b4a7f"/>
<circle cx="340.0" cy="488.40" r="2.9" fill="#1b4a7f"/>
<circle cx="366.3" cy="488.40" r="2.55" fill="#2b5283" stroke="#132b4c" stroke-width="0.9"/>
<text x="366.3" y="490.00" font-size="4.5" text-anchor="middle" fill="#b5c8de">S</text>
<circle cx="394.1" cy="488.40" r="2.6" fill="#fff" stroke="#4d72a0" stroke-width="0.9"/>
<circle cx="420.6" cy="488.40" r="2.9" fill="#a9bf8f"/>
<circle cx="447.2" cy="488.40" r="2.9" fill="#ca0c2b"/>
<circle cx="474.0" cy="488.40" r="2.9" fill="#a9bf8f"/>
<path d="M479.30 488.40 L481.60 486.10 L483.90 488.40 L481.60 490.70Z" fill="#c6c6ca"/>
<text x="281.40" y="500.25" font-size="6.912000000000001" text-anchor="end" fill="#2e2e2e" stroke="#2e2e2e" textLength="14.94" lengthAdjust="spacingAndGlyphs">Pt 36</text>
<line x1="287.40" y1="497.90" x2="489.70" y2="497.90" stroke="#7a7a7a" stroke-width="1.0"/>
<path d="M284.00 495.30 H290.80 L287.40 500.80Z" fill="#1a4277"/>
<circle cx="313.3" cy="497.90" r="2.9" fill="#1b4a7f"/>
<circle cx="340.0" cy="497.90" r="2.9" fill="#1b4a7f"/>
<circle cx="366.3" cy="497.90" r="2.55" fill="#2b5283" stroke="#132b4c" stroke-width="0.9"/>
<text x="366.3" y="499.50" font-size="4.5" text-anchor="middle" fill="#b5c8de">S</text>
<circle cx="394.1" cy="497.90" r="2.6" fill="#fff" stroke="#4d72a0" stroke-width="0.9"/>
<circle cx="420.6" cy="497.90" r="2.9" fill="#1b4a7f"/>
<circle cx="447.2" cy="497.90" r="2.9" fill="#ca0c2b"/>
<circle cx="474.0" cy="497.90" r="2.9" fill="#ca0c2b"/>
<path d="M487.40 497.90 L489.70 495.60 L492.00 497.90 L489.70 500.20Z" fill="#c6c6ca"/>
<text x="281.40" y="510.05" font-size="6.912000000000001" text-anchor="end" fill="#2e2e2e" stroke="#2e2e2e" textLength="14.94" lengthAdjust="spacingAndGlyphs">Pt 59</text>
<line x1="287.40" y1="507.70" x2="482.40" y2="507.70" stroke="#7a7a7a" stroke-width="1.0"/>
<path d="M284.00 505.10 H290.80 L287.40 510.60Z" fill="#1a4277"/>
<circle cx="313.3" cy="507.70" r="2.9" fill="#1b4a7f"/>
<circle cx="340.0" cy="507.70" r="2.9" fill="#1b4a7f"/>
<circle cx="366.3" cy="507.70" r="2.55" fill="#2b5283" stroke="#132b4c" stroke-width="0.9"/>
<text x="366.3" y="509.30" font-size="4.5" text-anchor="middle" fill="#b5c8de">S</text>
<circle cx="394.1" cy="507.70" r="2.6" fill="#fff" stroke="#4d72a0" stroke-width="0.9"/>
<circle cx="420.6" cy="507.70" r="2.9" fill="#ca0c2b"/>
<circle cx="447.2" cy="507.70" r="2.9" fill="#a9bf8f"/>
<circle cx="474.0" cy="507.70" r="2.9" fill="#a9bf8f"/>
<path d="M480.10 507.70 L482.40 505.40 L484.70 507.70 L482.40 510.00Z" fill="#c6c6ca"/>
<text x="281.40" y="519.85" font-size="6.912000000000001" text-anchor="end" fill="#2e2e2e" stroke="#2e2e2e" textLength="14.94" lengthAdjust="spacingAndGlyphs">Pt 21</text>
<line x1="287.40" y1="517.50" x2="502.60" y2="517.50" stroke="#7a7a7a" stroke-width="1.0"/>
<path d="M284.00 514.90 H290.80 L287.40 520.40Z" fill="#1a4277"/>
<circle cx="313.3" cy="517.50" r="2.9" fill="#1b4a7f"/>
<circle cx="340.0" cy="517.50" r="2.9" fill="#1b4a7f"/>
<circle cx="366.3" cy="517.50" r="2.9" fill="#a9bf8f"/>
<circle cx="394.1" cy="517.50" r="2.6" fill="#fff" stroke="#d43a55" stroke-width="0.9"/>
<circle cx="420.6" cy="517.50" r="2.9" fill="#ca0c2b"/>
<circle cx="447.2" cy="517.50" r="2.9" fill="#ca0c2b"/>
<circle cx="474.0" cy="517.50" r="2.9" fill="#ca0c2b"/>
<path d="M500.30 517.50 L502.60 515.20 L504.90 517.50 L502.60 519.80Z" fill="#c6c6ca"/>
<text x="281.40" y="529.55" font-size="6.912000000000001" text-anchor="end" fill="#2e2e2e" stroke="#2e2e2e" textLength="14.94" lengthAdjust="spacingAndGlyphs">Pt 24</text>
<line x1="287.40" y1="527.20" x2="493.20" y2="527.20" stroke="#7a7a7a" stroke-width="1.0"/>
<path d="M284.00 524.60 H290.80 L287.40 530.10Z" fill="#1a4277"/>
<circle cx="313.3" cy="527.20" r="2.9" fill="#1b4a7f"/>
<circle cx="340.0" cy="527.20" r="2.9" fill="#1b4a7f"/>
<circle cx="366.3" cy="527.20" r="2.9" fill="#ca0c2b"/>
<circle cx="394.1" cy="527.20" r="2.6" fill="#fff" stroke="#4d72a0" stroke-width="0.9"/>
<circle cx="420.6" cy="527.20" r="2.9" fill="#a9bf8f"/>
<circle cx="447.2" cy="527.20" r="2.9" fill="#1b4a7f"/>
<circle cx="474.0" cy="527.20" r="2.9" fill="#1b4a7f"/>
<path d="M490.90 527.20 L493.20 524.90 L495.50 527.20 L493.20 529.50Z" fill="#c6c6ca"/>
<text x="281.40" y="539.15" font-size="6.912000000000001" text-anchor="end" fill="#2e2e2e" stroke="#2e2e2e" textLength="11.38" lengthAdjust="spacingAndGlyphs">Pt 5</text>
<line x1="287.40" y1="536.80" x2="470.30" y2="536.80" stroke="#7a7a7a" stroke-width="1.0"/>
<path d="M284.00 534.20 H290.80 L287.40 539.70Z" fill="#1a4277"/>
<circle cx="313.3" cy="536.80" r="2.9" fill="#1b4a7f"/>
<circle cx="340.0" cy="536.80" r="2.9" fill="#1b4a7f"/>
<circle cx="366.3" cy="536.80" r="2.9" fill="#ca0c2b"/>
<circle cx="394.1" cy="536.80" r="2.6" fill="#fff" stroke="#d43a55" stroke-width="0.9"/>
<circle cx="420.6" cy="536.80" r="2.9" fill="#1b4a7f"/>
<circle cx="447.2" cy="536.80" r="2.9" fill="#ca0c2b"/>
<rect x="461.80" y="534.20" width="5.2" height="5.2" fill="#2a0b10"/>
<path d="M468.00 536.80 L470.30 534.50 L472.60 536.80 L470.30 539.10Z" fill="#c6c6ca"/>
<text x="281.40" y="549.25" font-size="6.912000000000001" text-anchor="end" fill="#2e2e2e" stroke="#2e2e2e" textLength="14.94" lengthAdjust="spacingAndGlyphs">Pt 67</text>
<line x1="287.40" y1="546.90" x2="479.70" y2="546.90" stroke="#7a7a7a" stroke-width="1.0"/>
<path d="M284.00 544.30 H290.80 L287.40 549.80Z" fill="#1a4277"/>
<circle cx="313.3" cy="546.90" r="2.9" fill="#ca0c2b"/>
<circle cx="340.0" cy="546.90" r="2.9" fill="#1b4a7f"/>
<circle cx="366.3" cy="546.90" r="2.9" fill="#1b4a7f"/>
<circle cx="394.1" cy="546.90" r="2.6" fill="#fff" stroke="#4d72a0" stroke-width="0.9"/>
<circle cx="420.6" cy="546.90" r="2.9" fill="#1b4a7f"/>
<circle cx="447.2" cy="546.90" r="2.9" fill="#1b4a7f"/>
<circle cx="474.0" cy="546.90" r="2.9" fill="#1b4a7f"/>
<path d="M477.40 546.90 L479.70 544.60 L482.00 546.90 L479.70 549.20Z" fill="#c6c6ca"/>
<text x="281.40" y="559.15" font-size="6.912000000000001" text-anchor="end" fill="#2e2e2e" stroke="#2e2e2e" textLength="14.94" lengthAdjust="spacingAndGlyphs">Pt 44</text>
<line x1="287.40" y1="556.80" x2="486.40" y2="556.80" stroke="#7a7a7a" stroke-width="1.0"/>
<path d="M284.00 554.20 H290.80 L287.40 559.70Z" fill="#1a4277"/>
<circle cx="313.3" cy="556.80" r="2.9" fill="#ca0c2b"/>
<circle cx="340.0" cy="556.80" r="2.9" fill="#ca0c2b"/>
<circle cx="366.3" cy="556.80" r="2.9" fill="#1b4a7f"/>
<circle cx="394.1" cy="556.80" r="2.6" fill="#fff" stroke="#4d72a0" stroke-width="0.9"/>
<circle cx="420.6" cy="556.80" r="2.9" fill="#a9bf8f"/>
<circle cx="447.2" cy="556.80" r="2.9" fill="#a9bf8f"/>
<circle cx="474.0" cy="556.80" r="2.9" fill="#1b4a7f"/>
<path d="M484.10 556.80 L486.40 554.50 L488.70 556.80 L486.40 559.10Z" fill="#c6c6ca"/>
<text x="0" y="0" font-size="6.6" text-anchor="end" fill="#242424" stroke="#242424" transform="translate(40.40,572.20) rotate(-45)"><tspan x="0" dy="0">Post-</tspan><tspan x="0" dy="8.0">Induction</tspan></text>
<text x="0" y="0" font-size="6.6" text-anchor="end" fill="#242424" stroke="#242424" transform="translate(66.40,572.20) rotate(-45)"><tspan x="0" dy="0">Post-</tspan><tspan x="0" dy="8.0">HDT/ASCT</tspan></text>
<text x="0" y="0" font-size="6.6" text-anchor="end" fill="#242424" stroke="#242424" transform="translate(93.70,572.20) rotate(-45)"><tspan x="0" dy="0">Post-</tspan><tspan x="0" dy="8.0">Consolidation</tspan></text>
<text x="0" y="0" font-size="6.6" text-anchor="end" fill="#242424" stroke="#242424" transform="translate(121.70,572.60) rotate(-45)">Y1M12</text>
<text x="0" y="0" font-size="6.6" text-anchor="end" fill="#242424" stroke="#242424" transform="translate(149.20,572.60) rotate(-45)">Y2M12</text>
<text x="0" y="0" font-size="6.6" text-anchor="end" fill="#242424" stroke="#242424" transform="translate(175.50,572.60) rotate(-45)">Y3M12</text>
<text x="0" y="0" font-size="6.6" text-anchor="end" fill="#242424" stroke="#242424" transform="translate(202.20,572.60) rotate(-45)">Y4M12</text>
<text x="0" y="0" font-size="6.6" text-anchor="end" fill="#242424" stroke="#242424" transform="translate(228.90,572.60) rotate(-45)">Y5M12</text>
<text x="0" y="0" font-size="6.6" text-anchor="end" fill="#242424" stroke="#242424" transform="translate(288.30,567.40) rotate(-45)"><tspan x="0" dy="0">Post-</tspan><tspan x="0" dy="8.0">Induction</tspan></text>
<text x="0" y="0" font-size="6.6" text-anchor="end" fill="#242424" stroke="#242424" transform="translate(314.20,567.40) rotate(-45)"><tspan x="0" dy="0">Post-</tspan><tspan x="0" dy="8.0">HDT/ASCT</tspan></text>
<text x="0" y="0" font-size="6.6" text-anchor="end" fill="#242424" stroke="#242424" transform="translate(340.90,567.40) rotate(-45)"><tspan x="0" dy="0">Post-</tspan><tspan x="0" dy="8.0">Consolidation</tspan></text>
<text x="0" y="0" font-size="6.6" text-anchor="end" fill="#242424" stroke="#242424" transform="translate(368.50,567.80) rotate(-45)">Y1M12</text>
<text x="0" y="0" font-size="6.6" text-anchor="end" fill="#242424" stroke="#242424" transform="translate(396.30,567.80) rotate(-45)">Y2M12</text>
<text x="0" y="0" font-size="6.6" text-anchor="end" fill="#242424" stroke="#242424" transform="translate(422.80,567.80) rotate(-45)">Y3M12</text>
<text x="0" y="0" font-size="6.6" text-anchor="end" fill="#242424" stroke="#242424" transform="translate(449.40,567.80) rotate(-45)">Y4M12</text>
<text x="0" y="0" font-size="6.6" text-anchor="end" fill="#242424" stroke="#242424" transform="translate(476.20,567.80) rotate(-45)">Y5M12</text>
<path d="M18.10 609.7 H35.80 L42.30 618.00 L35.80 626.3 H18.10 L19.70 618.00Z" fill="#e0e0e4"/>
<text x="30.00" y="620.00" font-size="6.4" text-anchor="middle" fill="#3e3e3e" stroke="#3e3e3e" >VRDx6</text>
<line x1="43.20" y1="618" x2="45.60" y2="618" stroke="#333" stroke-width="0.8"/>
<path d="M45.80 609.7 H68.10 L74.60 618.00 L68.10 626.3 H45.80 L47.40 618.00Z" fill="#e0e0e4"/>
<text x="60.00" y="616.00" font-size="6.4" text-anchor="middle" fill="#3e3e3e" stroke="#3e3e3e" >MEL200</text>
<text x="60.00" y="624.20" font-size="6.4" text-anchor="middle" fill="#3e3e3e" stroke="#3e3e3e" >BUMEL</text>
<line x1="76.00" y1="618" x2="78.40" y2="618" stroke="#333" stroke-width="0.8"/>
<path d="M78.80 609.7 H94.70 L101.20 618.00 L94.70 626.3 H78.80 L80.40 618.00Z" fill="#e0e0e4"/>
<text x="89.50" y="620.00" font-size="6.4" text-anchor="middle" fill="#3e3e3e" stroke="#3e3e3e" >VRDx2</text>
<line x1="102.20" y1="618" x2="105.60" y2="618" stroke="#333" stroke-width="0.8"/>
<circle cx="110.80" cy="617.8" r="4.1" fill="#fff" stroke="#222" stroke-width="0.9"/>
<text x="110.80" y="620.10" font-size="6.0" text-anchor="middle" fill="#222" stroke="#222" >R</text>
<path d="M116.90 609.7 H150.10 L157.30 618.00 L150.10 626.3 H116.90 L118.50 618.00Z" fill="#b5b5bd"/>
<text x="135.50" y="620.00" font-size="6.4" text-anchor="middle" fill="#2e2e2e" stroke="#2e2e2e" >Rd/IRd</text>
<line x1="157.30" y1="618" x2="159.40" y2="618" stroke="#333" stroke-width="0.8"/>
<circle cx="163.50" cy="617.8" r="4.1" fill="#fff" stroke="#222" stroke-width="0.9"/>
<text x="163.50" y="620.10" font-size="6.0" text-anchor="middle" fill="#222" stroke="#222" >S</text>
<path d="M170.50 609.7 H218.20 L225.40 618.00 L218.20 626.3 H170.50 L172.10 618.00Z" fill="#b5b5bd"/>
<text x="195.50" y="620.00" font-size="6.4" text-anchor="middle" fill="#2e2e2e" stroke="#2e2e2e" >MRD+ cont Rd</text>
<line x1="225.40" y1="618" x2="231.50" y2="618" stroke="#222" stroke-width="0.9"/>
<path d="M265.80 609.7 H283.50 L290.00 618.00 L283.50 626.3 H265.80 L267.40 618.00Z" fill="#e0e0e4"/>
<text x="277.70" y="620.00" font-size="6.4" text-anchor="middle" fill="#3e3e3e" stroke="#3e3e3e" >VRDx6</text>
<line x1="290.90" y1="618" x2="293.30" y2="618" stroke="#333" stroke-width="0.8"/>
<path d="M293.50 609.7 H315.80 L322.30 618.00 L315.80 626.3 H293.50 L295.10 618.00Z" fill="#e0e0e4"/>
<text x="307.70" y="616.00" font-size="6.4" text-anchor="middle" fill="#3e3e3e" stroke="#3e3e3e" >MEL200</text>
<text x="307.70" y="624.20" font-size="6.4" text-anchor="middle" fill="#3e3e3e" stroke="#3e3e3e" >BUMEL</text>
<line x1="323.70" y1="618" x2="326.10" y2="618" stroke="#333" stroke-width="0.8"/>
<path d="M326.50 609.7 H342.40 L348.90 618.00 L342.40 626.3 H326.50 L328.10 618.00Z" fill="#e0e0e4"/>
<text x="337.20" y="620.00" font-size="6.4" text-anchor="middle" fill="#3e3e3e" stroke="#3e3e3e" >VRDx2</text>
<line x1="349.90" y1="618" x2="353.30" y2="618" stroke="#333" stroke-width="0.8"/>
<circle cx="358.50" cy="617.8" r="4.1" fill="#fff" stroke="#222" stroke-width="0.9"/>
<text x="358.50" y="620.10" font-size="6.0" text-anchor="middle" fill="#222" stroke="#222" >R</text>
<path d="M364.60 609.7 H397.80 L405.00 618.00 L397.80 626.3 H364.60 L366.20 618.00Z" fill="#b5b5bd"/>
<text x="383.20" y="620.00" font-size="6.4" text-anchor="middle" fill="#2e2e2e" stroke="#2e2e2e" >Rd/IRd</text>
<line x1="405.00" y1="618" x2="407.10" y2="618" stroke="#333" stroke-width="0.8"/>
<circle cx="411.20" cy="617.8" r="4.1" fill="#fff" stroke="#222" stroke-width="0.9"/>
<text x="411.20" y="620.10" font-size="6.0" text-anchor="middle" fill="#222" stroke="#222" >S</text>
<path d="M418.20 609.7 H465.90 L473.10 618.00 L465.90 626.3 H418.20 L419.80 618.00Z" fill="#b5b5bd"/>
<text x="443.20" y="620.00" font-size="6.4" text-anchor="middle" fill="#2e2e2e" stroke="#2e2e2e" >MRD+ cont Rd</text>
<line x1="473.10" y1="618" x2="479.20" y2="618" stroke="#222" stroke-width="0.9"/>
<path d="M157.6 633.1 H167.79999999999998 L162.7 641.8Z" fill="#1a4277"/>
<circle cx="162.7" cy="650.8" r="5.0" fill="#ca0c2b"/>
<circle cx="162.7" cy="664.2" r="4.6" fill="#fff" stroke="#ca0c2b" stroke-width="0.9"/>
<circle cx="162.7" cy="677.6" r="4.6" fill="#fff" stroke="#1b4a7f" stroke-width="0.9"/>
<text x="162.70" y="692.30" font-size="7.0" text-anchor="middle" fill="#4f76a0" stroke="#4f76a0" >S</text>
<text x="171.90" y="640.05" font-size="7.062" text-anchor="start" fill="#2e2e2e" stroke="#2e2e2e" textLength="92.07" lengthAdjust="spacingAndGlyphs">Achievement of MRD negativity</text>
<text x="171.90" y="653.15" font-size="7.062" text-anchor="start" fill="#2e2e2e" stroke="#2e2e2e" textLength="39.24" lengthAdjust="spacingAndGlyphs">MRD positive</text>
<text x="171.90" y="666.55" font-size="7.062" text-anchor="start" fill="#2e2e2e" stroke="#2e2e2e" textLength="78.13" lengthAdjust="spacingAndGlyphs">MRD positive; continue Rd</text>
<text x="171.90" y="679.95" font-size="7.062" text-anchor="start" fill="#2e2e2e" stroke="#2e2e2e" textLength="87.67" lengthAdjust="spacingAndGlyphs">MRD negative; stop treatment</text>
<text x="171.90" y="692.35" font-size="7.062" text-anchor="start" fill="#2e2e2e" stroke="#2e2e2e" textLength="104.55" lengthAdjust="spacingAndGlyphs">Sustained MRD-negativity achieved</text>
<path d="M285.9 642.2 H296.5 L291.2 633.0Z" fill="#bb6d1c"/>
<path d="M287.2 650.8 L291.2 646.8 L295.2 650.8 L291.2 654.8Z" fill="#c6c6ca"/>
<rect x="287.2" y="660.2" width="8" height="8" fill="#2a0b10"/>
<circle cx="291.2" cy="677.6" r="5.0" fill="#a9bf8f"/>
<text x="300.40" y="640.05" font-size="7.062" text-anchor="start" fill="#2e2e2e" stroke="#2e2e2e" textLength="24.21" lengthAdjust="spacingAndGlyphs">Relapse</text>
<text x="300.40" y="653.15" font-size="7.062" text-anchor="start" fill="#2e2e2e" stroke="#2e2e2e" textLength="40.72" lengthAdjust="spacingAndGlyphs">Last follow-up</text>
<text x="300.40" y="666.55" font-size="7.062" text-anchor="start" fill="#2e2e2e" stroke="#2e2e2e" textLength="48.79" lengthAdjust="spacingAndGlyphs">End of treatment</text>
<text x="300.40" y="679.95" font-size="7.062" text-anchor="start" fill="#2e2e2e" stroke="#2e2e2e" textLength="76.28" lengthAdjust="spacingAndGlyphs">Missing MRD assessment</text>
<rect x="0.5" y="0.5" width="519" height="699" fill="none" stroke="#555" stroke-width="1"/>
</svg>
</body></html>
